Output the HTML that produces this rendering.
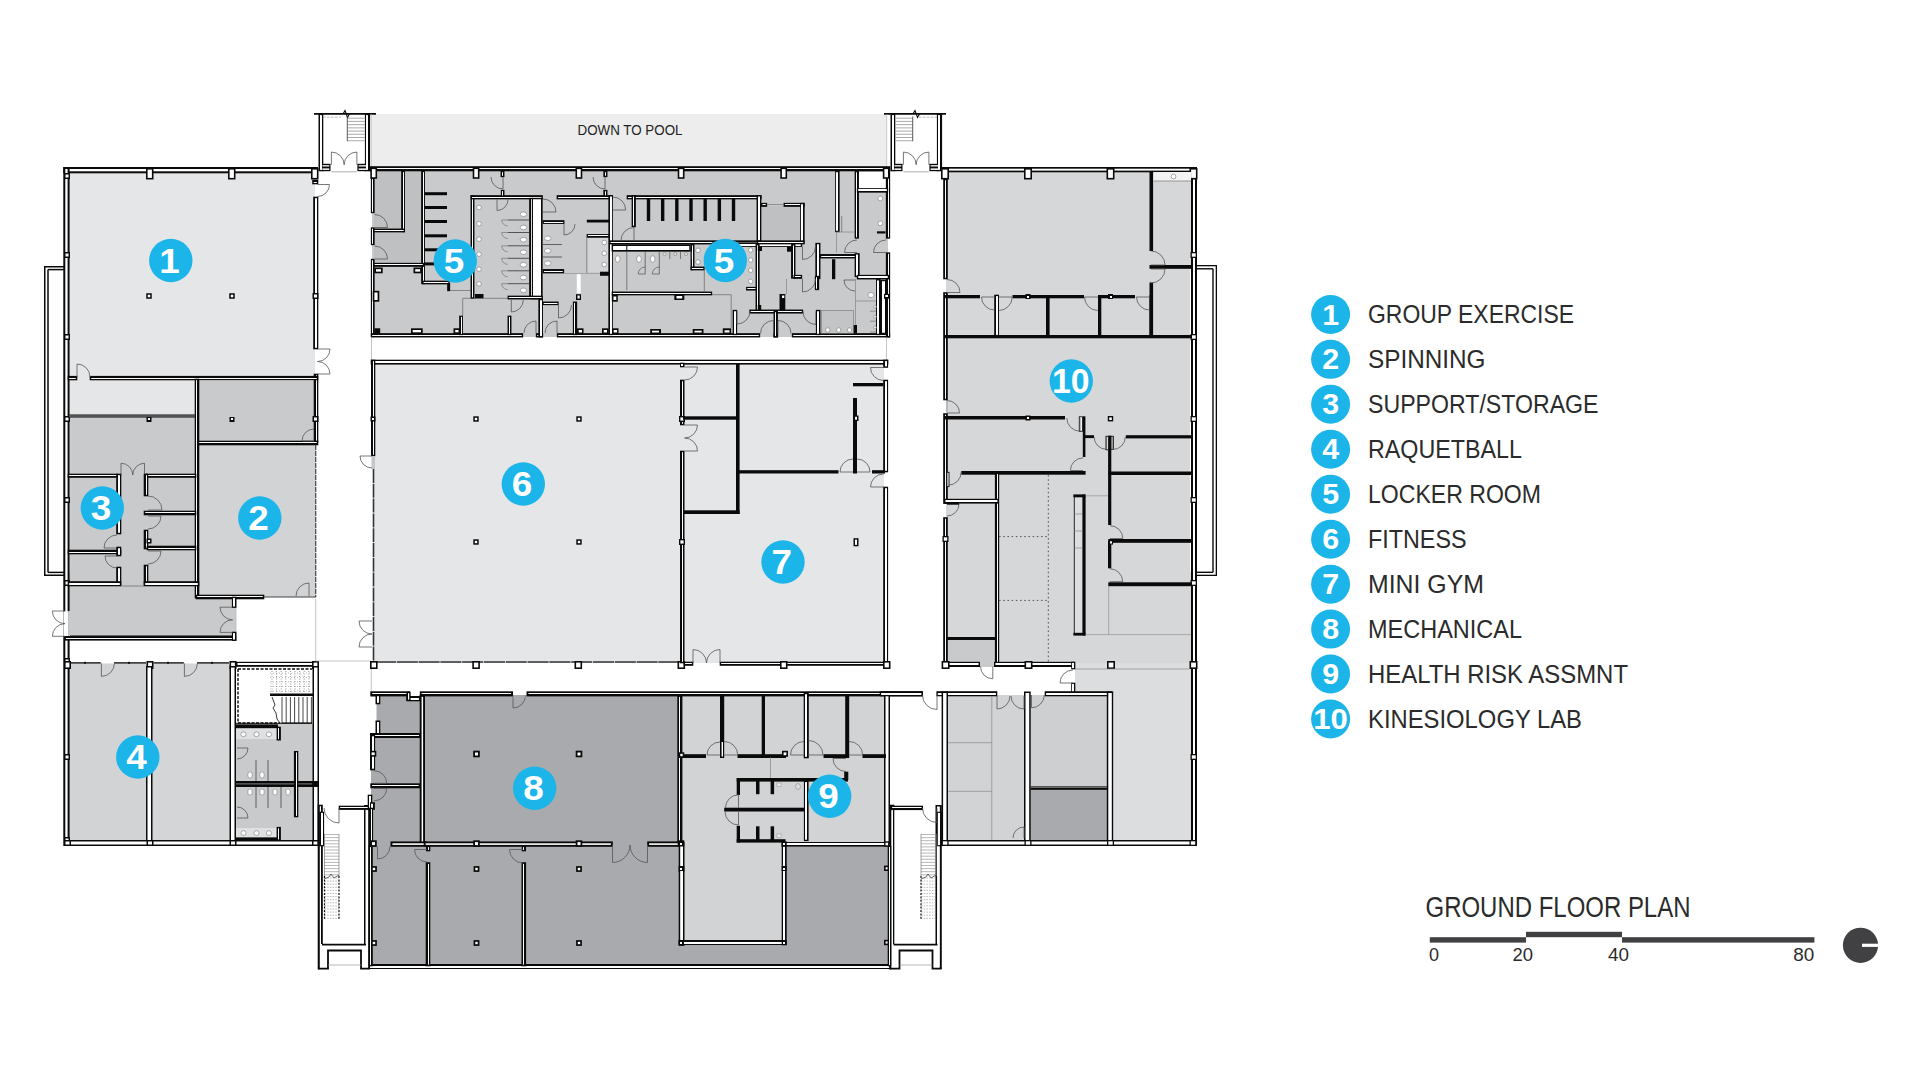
<!DOCTYPE html>
<html><head><meta charset="utf-8"><title>Ground Floor Plan</title>
<style>html,body{margin:0;padding:0;background:#fff;}body{width:1920px;height:1080px;overflow:hidden;}svg{display:block;font-family:"Liberation Sans",sans-serif;}</style>
</head><body>
<svg width="1920" height="1080" viewBox="0 0 1920 1080">
<rect x="371" y="114" width="516" height="53" fill="#ededee"/>
<rect x="69" y="172" width="246" height="207" fill="#e5e6e7"/>
<rect x="69" y="379" width="127" height="37" fill="#e5e6e7"/>
<rect x="198" y="381" width="117" height="61" fill="#c9cacc"/>
<rect x="199" y="445" width="117" height="152" fill="#d2d3d5"/>
<rect x="69" y="417" width="127" height="169" fill="#c9cacc"/>
<rect x="69" y="586" width="127" height="50" fill="#c9cacc"/>
<rect x="196" y="599" width="39.5" height="37" fill="#c9cacc"/>
<rect x="69" y="663.5" width="78" height="177.5" fill="#d2d3d5"/>
<rect x="152" y="663.5" width="78" height="177.5" fill="#d4d5d7"/>
<rect x="236" y="723.5" width="77" height="117.5" fill="#c9cacc"/>
<rect x="372" y="170" width="516" height="167" fill="#c9cacc"/>
<rect x="374" y="363" width="510" height="300" fill="#e5e6e7"/>
<rect x="371" y="695" width="310" height="270" fill="#a8aaad"/>
<rect x="681" y="845" width="209" height="120" fill="#a8aaad"/>
<rect x="682" y="695" width="204" height="148" fill="#d2d3d5"/>
<rect x="684" y="843" width="99" height="99" fill="#d2d3d5"/>
<rect x="946" y="171" width="246" height="492" fill="#d6d7d8"/>
<rect x="947" y="695" width="78" height="146" fill="#d2d3d5"/>
<rect x="1030" y="695" width="78" height="93" fill="#cecfd1"/>
<rect x="1030" y="788" width="78" height="53" fill="#a8aaad"/>
<rect x="947" y="640" width="48" height="24" fill="#c9cacc"/>
<rect x="44.75" y="266.75" width="20.5" height="308.5" fill="#fff" stroke="#0a0a0a" stroke-width="1.5"/>
<rect x="48" y="269.6" width="22" height="302.8" fill="#fff"/>
<line x1="48" y1="269.6" x2="48" y2="572.4" stroke="#0a0a0a" stroke-width="1.5"/>
<line x1="48" y1="269.6" x2="64" y2="269.6" stroke="#0a0a0a" stroke-width="1.5"/>
<line x1="48" y1="572.4" x2="64" y2="572.4" stroke="#0a0a0a" stroke-width="1.5"/>
<rect x="64.3" y="168" width="252.7" height="4.3" fill="#fff" stroke="#0a0a0a" stroke-width="2"/>
<rect x="64.3" y="168" width="4.3" height="677" fill="#fff" stroke="#0a0a0a" stroke-width="2"/>
<rect x="146.8" y="168.8" width="5.9" height="9.9" fill="#fff" stroke="#0a0a0a" stroke-width="1.6"/>
<rect x="228.8" y="168.8" width="5.9" height="9.9" fill="#fff" stroke="#0a0a0a" stroke-width="1.6"/>
<rect x="311.8" y="168.8" width="5.9" height="9.9" fill="#fff" stroke="#0a0a0a" stroke-width="1.6"/>
<rect x="64.75" y="173.75" width="4.5" height="4.5" fill="#fff" stroke="#0a0a0a" stroke-width="1.5"/>
<rect x="64.75" y="252.75" width="4.5" height="4.5" fill="#fff" stroke="#0a0a0a" stroke-width="1.5"/>
<rect x="64.75" y="334.75" width="4.5" height="4.5" fill="#fff" stroke="#0a0a0a" stroke-width="1.5"/>
<rect x="64.75" y="416.75" width="4.5" height="4.5" fill="#fff" stroke="#0a0a0a" stroke-width="1.5"/>
<rect x="64.75" y="497.75" width="4.5" height="4.5" fill="#fff" stroke="#0a0a0a" stroke-width="1.5"/>
<rect x="64.75" y="580.75" width="4.5" height="4.5" fill="#fff" stroke="#0a0a0a" stroke-width="1.5"/>
<rect x="64.75" y="658.75" width="4.5" height="4.5" fill="#fff" stroke="#0a0a0a" stroke-width="1.5"/>
<rect x="64.75" y="754.75" width="4.5" height="4.5" fill="#fff" stroke="#0a0a0a" stroke-width="1.5"/>
<rect x="64.75" y="837.75" width="4.5" height="4.5" fill="#fff" stroke="#0a0a0a" stroke-width="1.5"/>
<rect x="313.2" y="196.7" width="5.1" height="152.6" fill="#0a0a0a"/>
<rect x="315" y="198.2" width="2" height="149.6" fill="#fff"/>
<rect x="313.25" y="293.75" width="4.5" height="4.5" fill="#fff" stroke="#0a0a0a" stroke-width="1.5"/>
<rect x="147" y="294" width="4" height="4" fill="#fff" stroke="#0a0a0a" stroke-width="1.5"/>
<rect x="230" y="294" width="4" height="4" fill="#fff" stroke="#0a0a0a" stroke-width="1.5"/>
<rect x="312.2" y="179.7" width="6.1" height="4.6" fill="#0a0a0a"/>
<rect x="313.7" y="182" width="3.1" height="1" fill="#fff"/>
<path d="M317.5 184.5L329.5 184.5A12 12 0 0 1 317.5 196.5" fill="none" stroke="#555" stroke-width="0.8"/>
<rect x="313.7" y="373.7" width="4.6" height="68.6" fill="#0a0a0a"/>
<rect x="316" y="375.2" width="1" height="65.6" fill="#fff"/>
<path d="M317.5 349L330 349A12.5 12.5 0 0 1 317.5 361.5" fill="none" stroke="#555" stroke-width="0.8"/>
<path d="M317.5 374L330 374A12.5 12.5 0 0 0 317.5 361.5" fill="none" stroke="#555" stroke-width="0.8"/>
<rect x="313.25" y="416.75" width="4.5" height="4.5" fill="#fff" stroke="#0a0a0a" stroke-width="1.5"/>
<rect x="67.7" y="375.9" width="9.6" height="4.4" fill="#0a0a0a"/>
<rect x="69.2" y="378" width="6.6" height="1" fill="#fff"/>
<rect x="89.7" y="375.9" width="228.6" height="4.4" fill="#0a0a0a"/>
<rect x="91.2" y="378" width="225.6" height="1" fill="#fff"/>
<path d="M77 377L77 364A13 13 0 0 1 90 377" fill="none" stroke="#555" stroke-width="0.8"/>
<rect x="194.7" y="378.7" width="4.6" height="219.6" fill="#0a0a0a"/>
<rect x="196" y="380.2" width="1" height="216.6" fill="#fff"/>
<rect x="68" y="414.5" width="128" height="3" fill="#0a0a0a"/>
<line x1="69" y1="416" x2="195" y2="416" stroke="#fff" stroke-width="0.6"/>
<rect x="146.5" y="417" width="5" height="5" fill="#0a0a0a"/>
<rect x="148" y="418" width="2" height="2" fill="#fff"/>
<rect x="229.5" y="417" width="5" height="5" fill="#0a0a0a"/>
<rect x="231" y="418" width="2" height="2" fill="#fff"/>
<rect x="197.7" y="440.7" width="120.6" height="4.6" fill="#0a0a0a"/>
<rect x="199.2" y="442" width="117.6" height="1" fill="#fff"/>
<path d="M314 441L302 441A12 12 0 0 1 314 429" fill="none" stroke="#555" stroke-width="0.8"/>
<line x1="315.7" y1="445" x2="315.7" y2="597" stroke="#444" stroke-width="1.2" stroke-dasharray="5 1"/>
<rect x="195.7" y="594.7" width="68.6" height="4.6" fill="#0a0a0a"/>
<rect x="197.2" y="596" width="65.6" height="1" fill="#fff"/>
<line x1="264" y1="597" x2="316" y2="597" stroke="#444" stroke-width="1"/>
<path d="M309 596L309 583A13 13 0 0 0 296 596" fill="none" stroke="#555" stroke-width="0.8"/>
<rect x="67.7" y="473.7" width="50.6" height="4.1" fill="#0a0a0a"/>
<rect x="69.13" y="475" width="47.75" height="1" fill="#fff"/>
<rect x="144.7" y="473.7" width="51.6" height="4.1" fill="#0a0a0a"/>
<rect x="146.12" y="475" width="48.75" height="1" fill="#fff"/>
<path d="M121 475L121 463.25A11.75 11.75 0 0 1 132.75 475" fill="none" stroke="#555" stroke-width="0.8"/>
<path d="M144.5 475L144.5 463.25A11.75 11.75 0 0 0 132.75 475" fill="none" stroke="#555" stroke-width="0.8"/>
<rect x="116.2" y="473.7" width="5.1" height="60.6" fill="#0a0a0a"/>
<rect x="118" y="475.2" width="2" height="57.6" fill="#fff"/>
<rect x="143.7" y="473.7" width="4.6" height="22.6" fill="#0a0a0a"/>
<rect x="146" y="475.2" width="1" height="19.6" fill="#fff"/>
<rect x="67.7" y="549.7" width="53.6" height="4.6" fill="#0a0a0a"/>
<rect x="69.2" y="552" width="50.6" height="1" fill="#fff"/>
<rect x="116.2" y="546.7" width="5.1" height="9.6" fill="#0a0a0a"/>
<rect x="118" y="548.2" width="2" height="6.6" fill="#fff"/>
<rect x="116.2" y="566.7" width="5.1" height="18.6" fill="#0a0a0a"/>
<rect x="118" y="568.2" width="2" height="15.6" fill="#fff"/>
<rect x="143.7" y="510.7" width="52.6" height="4.6" fill="#0a0a0a"/>
<rect x="145.2" y="512" width="49.6" height="1" fill="#fff"/>
<rect x="143.7" y="529.7" width="4.6" height="19.6" fill="#0a0a0a"/>
<rect x="146" y="531.2" width="1" height="16.6" fill="#fff"/>
<rect x="146.7" y="545.7" width="49.6" height="4.6" fill="#0a0a0a"/>
<rect x="148.2" y="548" width="46.6" height="1" fill="#fff"/>
<rect x="143.7" y="564.7" width="4.6" height="20.6" fill="#0a0a0a"/>
<rect x="146" y="566.2" width="1" height="17.6" fill="#fff"/>
<rect x="146.5" y="538.5" width="5" height="5" fill="#0a0a0a"/>
<rect x="148" y="540" width="2" height="2" fill="#fff"/>
<path d="M117 548L104 548A13 13 0 0 1 117 535" fill="none" stroke="#555" stroke-width="0.8"/>
<path d="M117 556L105 556A12 12 0 0 0 117 568" fill="none" stroke="#555" stroke-width="0.8"/>
<path d="M148 510L162 510A14 14 0 0 0 148 496" fill="none" stroke="#555" stroke-width="0.8"/>
<path d="M148 516L161 516A13 13 0 0 1 148 529" fill="none" stroke="#555" stroke-width="0.8"/>
<path d="M148 551L161 551A13 13 0 0 1 148 564" fill="none" stroke="#555" stroke-width="0.8"/>
<rect x="67.7" y="581.2" width="53.6" height="5.1" fill="#0a0a0a"/>
<rect x="69.2" y="583" width="50.6" height="2" fill="#fff"/>
<rect x="143.7" y="581.2" width="55.6" height="5.1" fill="#0a0a0a"/>
<rect x="145.2" y="583" width="52.6" height="2" fill="#fff"/>
<line x1="121" y1="586" x2="144" y2="586" stroke="#666" stroke-width="0.7"/>
<rect x="64" y="635.5" width="172.2" height="5.1" fill="#0a0a0a"/>
<rect x="65.93" y="638" width="168.35" height="1" fill="#fff"/>
<rect x="231.9" y="596.7" width="4.6" height="11.2" fill="#0a0a0a"/>
<rect x="233" y="598.1" width="2" height="8.4" fill="#fff"/>
<rect x="231.9" y="631.7" width="4.6" height="9.2" fill="#0a0a0a"/>
<rect x="233" y="633.1" width="2" height="6.4" fill="#fff"/>
<line x1="235.9" y1="607.6" x2="235.9" y2="632" stroke="#999" stroke-width="0.7"/>
<rect x="63.4" y="611.3" width="6.6" height="24.7" fill="#fff"/>
<line x1="68.6" y1="611.3" x2="68.6" y2="636" stroke="#999" stroke-width="0.7"/>
<rect x="68.9" y="611.3" width="1.1" height="24.7" fill="#c9cacc"/>
<path d="M65 611L52.35 611A12.65 12.65 0 0 0 65 623.65" fill="none" stroke="#555" stroke-width="0.8"/>
<path d="M65 636.3L52.35 636.3A12.65 12.65 0 0 1 65 623.65" fill="none" stroke="#555" stroke-width="0.8"/>
<path d="M232.6 607.2L220 607.2A12.6 12.6 0 0 0 232.6 619.8" fill="none" stroke="#555" stroke-width="0.8"/>
<path d="M232.6 632.4L220 632.4A12.6 12.6 0 0 1 232.6 619.8" fill="none" stroke="#555" stroke-width="0.8"/>
<rect x="236" y="661.8" width="83" height="5" fill="#0a0a0a"/>
<rect x="237.5" y="663" width="80" height="2" fill="#fff"/>
<line x1="70" y1="662.9" x2="100.8" y2="662.9" stroke="#222" stroke-width="1.5"/>
<line x1="114" y1="662.9" x2="146" y2="662.9" stroke="#222" stroke-width="1.5"/>
<line x1="153.5" y1="662.9" x2="183.8" y2="662.9" stroke="#222" stroke-width="1.5"/>
<line x1="197" y1="662.9" x2="229" y2="662.9" stroke="#222" stroke-width="1.5"/>
<rect x="84.2" y="661.8" width="1.6" height="2.2" fill="#111"/>
<rect x="128.2" y="661.8" width="1.6" height="2.2" fill="#111"/>
<rect x="167.2" y="661.8" width="1.6" height="2.2" fill="#111"/>
<rect x="211.2" y="661.8" width="1.6" height="2.2" fill="#111"/>
<rect x="64.8" y="661.8" width="5.4" height="6.4" fill="#fff" stroke="#0a0a0a" stroke-width="1.6"/>
<rect x="147.3" y="661.8" width="5.4" height="6.4" fill="#fff" stroke="#0a0a0a" stroke-width="1.6"/>
<rect x="230.3" y="661.8" width="5.4" height="6.4" fill="#fff" stroke="#0a0a0a" stroke-width="1.6"/>
<rect x="312.8" y="661.8" width="5.4" height="6.4" fill="#fff" stroke="#0a0a0a" stroke-width="1.6"/>
<rect x="146.75" y="666.75" width="5" height="178.5" fill="#fff" stroke="#0a0a0a" stroke-width="1.5"/>
<rect x="230.25" y="666.75" width="5" height="178.5" fill="#fff" stroke="#0a0a0a" stroke-width="1.5"/>
<rect x="313.25" y="666.75" width="5" height="178.5" fill="#fff" stroke="#0a0a0a" stroke-width="1.5"/>
<rect x="64.75" y="840.75" width="253.5" height="4.5" fill="#fff" stroke="#0a0a0a" stroke-width="1.5"/>
<rect x="64.75" y="840.75" width="5.5" height="4.5" fill="#fff" stroke="#0a0a0a" stroke-width="1.5"/>
<rect x="147.25" y="840.75" width="5.5" height="4.5" fill="#fff" stroke="#0a0a0a" stroke-width="1.5"/>
<rect x="230.25" y="840.75" width="5.5" height="4.5" fill="#fff" stroke="#0a0a0a" stroke-width="1.5"/>
<rect x="312.75" y="840.75" width="5.5" height="4.5" fill="#fff" stroke="#0a0a0a" stroke-width="1.5"/>
<path d="M101.4 663.4L101.4 676.4A13 13 0 0 0 114.4 663.4" fill="none" stroke="#555" stroke-width="0.8"/>
<path d="M184.4 663.4L184.4 676.4A13 13 0 0 0 197.4 663.4" fill="none" stroke="#555" stroke-width="0.8"/>
<line x1="238" y1="669" x2="312" y2="669" stroke="#0a0a0a" stroke-width="1.4" stroke-dasharray="3 1.5"/>
<line x1="238" y1="669" x2="238" y2="723" stroke="#0a0a0a" stroke-width="1.4" stroke-dasharray="3 1.5"/>
<line x1="238" y1="723" x2="280" y2="723" stroke="#0a0a0a" stroke-width="1.4" stroke-dasharray="3 1.5"/>
<line x1="272" y1="671" x2="272" y2="693" stroke="#666" stroke-width="0.7" stroke-dasharray="1 1.5"/>
<line x1="276.6" y1="671" x2="276.6" y2="693" stroke="#666" stroke-width="0.7" stroke-dasharray="1 1.5"/>
<line x1="281.2" y1="671" x2="281.2" y2="693" stroke="#666" stroke-width="0.7" stroke-dasharray="1 1.5"/>
<line x1="285.8" y1="671" x2="285.8" y2="693" stroke="#666" stroke-width="0.7" stroke-dasharray="1 1.5"/>
<line x1="290.4" y1="671" x2="290.4" y2="693" stroke="#666" stroke-width="0.7" stroke-dasharray="1 1.5"/>
<line x1="295" y1="671" x2="295" y2="693" stroke="#666" stroke-width="0.7" stroke-dasharray="1 1.5"/>
<line x1="299.6" y1="671" x2="299.6" y2="693" stroke="#666" stroke-width="0.7" stroke-dasharray="1 1.5"/>
<line x1="304.2" y1="671" x2="304.2" y2="693" stroke="#666" stroke-width="0.7" stroke-dasharray="1 1.5"/>
<line x1="308.8" y1="671" x2="308.8" y2="693" stroke="#666" stroke-width="0.7" stroke-dasharray="1 1.5"/>
<line x1="270" y1="673" x2="312" y2="673" stroke="#888" stroke-width="0.6" stroke-dasharray="1 2"/>
<line x1="270" y1="677.5" x2="312" y2="677.5" stroke="#888" stroke-width="0.6" stroke-dasharray="1 2"/>
<line x1="270" y1="682" x2="312" y2="682" stroke="#888" stroke-width="0.6" stroke-dasharray="1 2"/>
<line x1="270" y1="686.5" x2="312" y2="686.5" stroke="#888" stroke-width="0.6" stroke-dasharray="1 2"/>
<line x1="270" y1="691" x2="312" y2="691" stroke="#888" stroke-width="0.6" stroke-dasharray="1 2"/>
<rect x="270" y="693.5" width="44" height="2.5" fill="#0a0a0a"/>
<line x1="282" y1="697" x2="282" y2="723" stroke="#333" stroke-width="0.9"/>
<line x1="286.2" y1="697" x2="286.2" y2="723" stroke="#333" stroke-width="0.9"/>
<line x1="290.4" y1="697" x2="290.4" y2="723" stroke="#333" stroke-width="0.9"/>
<line x1="294.6" y1="697" x2="294.6" y2="723" stroke="#333" stroke-width="0.9"/>
<line x1="298.8" y1="697" x2="298.8" y2="723" stroke="#333" stroke-width="0.9"/>
<line x1="303" y1="697" x2="303" y2="723" stroke="#333" stroke-width="0.9"/>
<line x1="307.2" y1="697" x2="307.2" y2="723" stroke="#333" stroke-width="0.9"/>
<line x1="311.4" y1="697" x2="311.4" y2="723" stroke="#333" stroke-width="0.9"/>
<line x1="282" y1="723" x2="312" y2="723" stroke="#0a0a0a" stroke-width="1"/>
<path d="M272 697l3 8-2 3 3 5 1 6 3 4" fill="none" stroke="#222" stroke-width="0.9"/>
<rect x="236" y="729" width="41" height="10" fill="#dfe0e1"/>
<rect x="236" y="828" width="41" height="9.4" fill="#dfe0e1"/>
<rect x="236" y="724.4" width="42" height="3.7" fill="#0a0a0a"/>
<line x1="236" y1="723.3" x2="312" y2="723.3" stroke="#0a0a0a" stroke-width="1"/>
<rect x="276.6" y="726.7" width="4.3" height="13.8" fill="#0a0a0a"/>
<rect x="278" y="728.1" width="1" height="11" fill="#fff"/>
<rect x="236" y="781" width="83" height="6" fill="#0a0a0a"/>
<line x1="236" y1="783.9" x2="312" y2="783.9" stroke="#ccc" stroke-width="0.6"/>
<rect x="236" y="837.4" width="42" height="3.6" fill="#0a0a0a"/>
<rect x="276.6" y="826.9" width="4.3" height="13.9" fill="#0a0a0a"/>
<rect x="278" y="828.3" width="1" height="11.1" fill="#fff"/>
<rect x="293.9" y="751" width="4.4" height="66.3" fill="#0a0a0a"/>
<rect x="296" y="752.4" width="1" height="63.5" fill="#fff"/>
<ellipse cx="243.5" cy="734.3" rx="2.6" ry="2.4" fill="#fff" stroke="#777" stroke-width="0.6"/>
<ellipse cx="243.5" cy="833.1" rx="2.6" ry="2.4" fill="#fff" stroke="#777" stroke-width="0.6"/>
<ellipse cx="256.5" cy="734.3" rx="2.6" ry="2.4" fill="#fff" stroke="#777" stroke-width="0.6"/>
<ellipse cx="256.5" cy="833.1" rx="2.6" ry="2.4" fill="#fff" stroke="#777" stroke-width="0.6"/>
<ellipse cx="268.9" cy="734.3" rx="2.6" ry="2.4" fill="#fff" stroke="#777" stroke-width="0.6"/>
<ellipse cx="268.9" cy="833.1" rx="2.6" ry="2.4" fill="#fff" stroke="#777" stroke-width="0.6"/>
<ellipse cx="250" cy="775" rx="2.3" ry="3.2" fill="#fff" stroke="#777" stroke-width="0.6"/>
<ellipse cx="262" cy="775" rx="2.3" ry="3.2" fill="#fff" stroke="#777" stroke-width="0.6"/>
<ellipse cx="250" cy="792" rx="2.3" ry="3.2" fill="#fff" stroke="#777" stroke-width="0.6"/>
<ellipse cx="262" cy="792" rx="2.3" ry="3.2" fill="#fff" stroke="#777" stroke-width="0.6"/>
<ellipse cx="275" cy="792" rx="2.3" ry="3.2" fill="#fff" stroke="#777" stroke-width="0.6"/>
<ellipse cx="288" cy="792" rx="2.3" ry="3.2" fill="#fff" stroke="#777" stroke-width="0.6"/>
<line x1="256" y1="760" x2="256" y2="781" stroke="#444" stroke-width="0.8"/>
<line x1="268" y1="760" x2="268" y2="781" stroke="#444" stroke-width="0.8"/>
<line x1="256" y1="787" x2="256" y2="808" stroke="#444" stroke-width="0.8"/>
<line x1="268" y1="787" x2="268" y2="808" stroke="#444" stroke-width="0.8"/>
<line x1="281" y1="787" x2="281" y2="808" stroke="#444" stroke-width="0.8"/>
<path d="M237 748L248 748A11 11 0 0 1 237 759" fill="none" stroke="#555" stroke-width="0.8"/>
<path d="M237 818L248 818A11 11 0 0 0 237 807" fill="none" stroke="#555" stroke-width="0.8"/>
<line x1="314" y1="113.9" x2="376" y2="113.9" stroke="#0a0a0a" stroke-width="1.9"/>
<path d="M343 114l2-3.5 2.5 7 2-3.5" fill="none" stroke="#0a0a0a" stroke-width="1.1"/>
<rect x="318.5" y="113.7" width="4.8" height="57.6" fill="#0a0a0a"/>
<rect x="320" y="115.1" width="2" height="54.8" fill="#fff"/>
<rect x="364.9" y="113.7" width="5.2" height="57.6" fill="#0a0a0a"/>
<rect x="366" y="115.1" width="2" height="54.8" fill="#fff"/>
<rect x="322.4" y="163.8" width="8.1" height="7.4" fill="#0a0a0a"/>
<rect x="322.4" y="165.2" width="6.9" height="1.3" fill="#fff"/>
<rect x="322.4" y="168.4" width="6.9" height="1.5" fill="#fff"/>
<rect x="357.4" y="163.8" width="8.6" height="7.4" fill="#0a0a0a"/>
<rect x="358.6" y="165.2" width="7.4" height="1.3" fill="#fff"/>
<rect x="358.6" y="168.4" width="7.4" height="1.5" fill="#fff"/>
<line x1="347.3" y1="118.2" x2="364.7" y2="118.2" stroke="#aaa" stroke-width="1"/>
<line x1="347.3" y1="121.42" x2="364.7" y2="121.42" stroke="#aaa" stroke-width="1"/>
<line x1="347.3" y1="124.64" x2="364.7" y2="124.64" stroke="#aaa" stroke-width="1"/>
<line x1="347.3" y1="127.86" x2="364.7" y2="127.86" stroke="#aaa" stroke-width="1"/>
<line x1="347.3" y1="131.08" x2="364.7" y2="131.08" stroke="#aaa" stroke-width="1"/>
<line x1="347.3" y1="134.3" x2="364.7" y2="134.3" stroke="#aaa" stroke-width="1"/>
<line x1="347.3" y1="137.52" x2="364.7" y2="137.52" stroke="#aaa" stroke-width="1"/>
<line x1="347.3" y1="140.74" x2="364.7" y2="140.74" stroke="#aaa" stroke-width="1"/>
<line x1="347.3" y1="116.5" x2="347.3" y2="141.2" stroke="#333" stroke-width="0.8"/>
<line x1="323" y1="117.2" x2="341" y2="117.2" stroke="#999" stroke-width="0.7" stroke-dasharray="2.5 1.5"/>
<path d="M331.4 164.8L331.4 152.05A12.75 12.75 0 0 1 344.15 164.8" fill="none" stroke="#555" stroke-width="0.8"/>
<path d="M356.9 164.8L356.9 152.05A12.75 12.75 0 0 0 344.15 164.8" fill="none" stroke="#555" stroke-width="0.8"/>
<line x1="331.4" y1="171.8" x2="356.9" y2="171.8" stroke="#999" stroke-width="0.8"/>
<line x1="884" y1="113.9" x2="946" y2="113.9" stroke="#0a0a0a" stroke-width="1.9"/>
<path d="M913 114l2-3.5 2.5 7 2-3.5" fill="none" stroke="#0a0a0a" stroke-width="1.1"/>
<rect x="890.5" y="113.7" width="4.8" height="57.6" fill="#0a0a0a"/>
<rect x="892" y="115.1" width="2" height="54.8" fill="#fff"/>
<rect x="936.9" y="113.7" width="5.2" height="57.6" fill="#0a0a0a"/>
<rect x="938" y="115.1" width="2" height="54.8" fill="#fff"/>
<rect x="894.4" y="163.8" width="8.1" height="7.4" fill="#0a0a0a"/>
<rect x="894.4" y="165.2" width="6.9" height="1.3" fill="#fff"/>
<rect x="894.4" y="168.4" width="6.9" height="1.5" fill="#fff"/>
<rect x="929.4" y="163.8" width="8.6" height="7.4" fill="#0a0a0a"/>
<rect x="930.6" y="165.2" width="7.4" height="1.3" fill="#fff"/>
<rect x="930.6" y="168.4" width="7.4" height="1.5" fill="#fff"/>
<line x1="895.3" y1="118.2" x2="912.7" y2="118.2" stroke="#aaa" stroke-width="1"/>
<line x1="895.3" y1="121.42" x2="912.7" y2="121.42" stroke="#aaa" stroke-width="1"/>
<line x1="895.3" y1="124.64" x2="912.7" y2="124.64" stroke="#aaa" stroke-width="1"/>
<line x1="895.3" y1="127.86" x2="912.7" y2="127.86" stroke="#aaa" stroke-width="1"/>
<line x1="895.3" y1="131.08" x2="912.7" y2="131.08" stroke="#aaa" stroke-width="1"/>
<line x1="895.3" y1="134.3" x2="912.7" y2="134.3" stroke="#aaa" stroke-width="1"/>
<line x1="895.3" y1="137.52" x2="912.7" y2="137.52" stroke="#aaa" stroke-width="1"/>
<line x1="895.3" y1="140.74" x2="912.7" y2="140.74" stroke="#aaa" stroke-width="1"/>
<line x1="912.7" y1="116.5" x2="912.7" y2="141.2" stroke="#333" stroke-width="0.8"/>
<line x1="919" y1="117.2" x2="937" y2="117.2" stroke="#999" stroke-width="0.7" stroke-dasharray="2.5 1.5"/>
<path d="M903.4 164.8L903.4 152.05A12.75 12.75 0 0 1 916.15 164.8" fill="none" stroke="#555" stroke-width="0.8"/>
<path d="M928.9 164.8L928.9 152.05A12.75 12.75 0 0 0 916.15 164.8" fill="none" stroke="#555" stroke-width="0.8"/>
<line x1="903.4" y1="171.8" x2="928.9" y2="171.8" stroke="#999" stroke-width="0.8"/>
<line x1="371.3" y1="114" x2="371.3" y2="167" stroke="#bbb" stroke-width="0.7"/>
<line x1="886.7" y1="114" x2="886.7" y2="167" stroke="#bbb" stroke-width="0.7"/>
<rect x="374" y="171" width="28" height="58" fill="#bfc0c2"/>
<rect x="404" y="171" width="18" height="93" fill="#bfc0c2"/>
<rect x="374" y="232" width="48" height="32" fill="#bfc0c2"/>
<rect x="761" y="206" width="40" height="35" fill="#bfc0c2"/>
<rect x="821" y="310" width="33" height="24" fill="#c3c4c6"/>
<rect x="859" y="172" width="27" height="17" fill="#fff"/>
<rect x="587" y="237.5" width="22" height="34.5" fill="#d3d4d6"/>
<rect x="369.7" y="166.2" width="520.6" height="5.1" fill="#0a0a0a"/>
<rect x="371.62" y="168" width="516.75" height="1" fill="#fff"/>
<rect x="370.85" y="177.85" width="3.8" height="35.3" fill="#0a0a0a"/>
<rect x="372" y="179.15" width="1" height="32.7" fill="#fff"/>
<rect x="370.85" y="227.35" width="3.8" height="17.8" fill="#0a0a0a"/>
<rect x="372" y="228.65" width="1" height="15.2" fill="#fff"/>
<rect x="370.85" y="258.85" width="3.8" height="78.3" fill="#0a0a0a"/>
<rect x="372" y="260.15" width="1" height="75.7" fill="#fff"/>
<path d="M374.5 227.5L387.5 227.5A13 13 0 0 0 374.5 214.5" fill="none" stroke="#555" stroke-width="0.8"/>
<path d="M374.5 259L387.5 259A13 13 0 0 0 374.5 246" fill="none" stroke="#555" stroke-width="0.8"/>
<rect x="370.85" y="333.15" width="152.3" height="4.3" fill="#0a0a0a"/>
<rect x="372.25" y="335" width="149.5" height="1" fill="#fff"/>
<rect x="535.85" y="333.15" width="7.3" height="4.3" fill="#0a0a0a"/>
<rect x="537.25" y="335" width="4.5" height="1" fill="#fff"/>
<rect x="556.85" y="333.15" width="203.3" height="4.3" fill="#0a0a0a"/>
<rect x="558.25" y="335" width="200.5" height="1" fill="#fff"/>
<rect x="773.35" y="333.15" width="4.8" height="4.3" fill="#0a0a0a"/>
<rect x="774.75" y="335" width="2" height="1" fill="#fff"/>
<rect x="791.85" y="333.15" width="98.3" height="4.3" fill="#0a0a0a"/>
<rect x="793.25" y="335" width="95.5" height="1" fill="#fff"/>
<rect x="885.85" y="170.85" width="4.3" height="67.8" fill="#0a0a0a"/>
<rect x="888" y="172.25" width="1" height="65" fill="#fff"/>
<rect x="885.85" y="252.35" width="4.3" height="85.1" fill="#0a0a0a"/>
<rect x="888" y="253.75" width="1" height="82.3" fill="#fff"/>
<rect x="401.15" y="170.85" width="3.8" height="61.3" fill="#0a0a0a"/>
<rect x="403" y="172.15" width="1" height="58.7" fill="#fff"/>
<rect x="373.35" y="228.55" width="31.6" height="3.8" fill="#0a0a0a"/>
<rect x="374.65" y="230" width="29" height="1" fill="#fff"/>
<rect x="421.15" y="170.85" width="3.8" height="113.3" fill="#0a0a0a"/>
<rect x="423" y="172.15" width="1" height="110.7" fill="#fff"/>
<rect x="373.35" y="262.85" width="50.8" height="4" fill="#0a0a0a"/>
<rect x="374.75" y="264" width="48" height="1" fill="#fff"/>
<rect x="422.35" y="280.65" width="27.3" height="3.7" fill="#0a0a0a"/>
<rect x="423.6" y="282" width="24.8" height="1" fill="#fff"/>
<rect x="447.15" y="282.85" width="3" height="8.3" fill="#0a0a0a"/>
<rect x="424.7" y="192.2" width="22.3" height="3" fill="#0a0a0a"/>
<rect x="424.7" y="206" width="22.3" height="3" fill="#0a0a0a"/>
<rect x="424.7" y="220" width="22.3" height="3" fill="#0a0a0a"/>
<rect x="424.7" y="234.3" width="22.3" height="3" fill="#0a0a0a"/>
<rect x="424.7" y="248.3" width="22.3" height="3" fill="#0a0a0a"/>
<rect x="424.7" y="262.4" width="22.3" height="3" fill="#0a0a0a"/>
<rect x="374.3" y="267.5" width="8.4" height="5.8" fill="#0a0a0a"/>
<rect x="376" y="269.2" width="5" height="2.4" fill="#fff"/>
<rect x="413.5" y="267.5" width="8.3" height="5.8" fill="#0a0a0a"/>
<rect x="415.2" y="269.2" width="4.9" height="2.4" fill="#fff"/>
<rect x="372.7" y="290.8" width="6.6" height="10.9" fill="#0a0a0a"/>
<rect x="374.4" y="292.5" width="3.2" height="7.5" fill="#fff"/>
<rect x="374.3" y="328.3" width="5.9" height="5.7" fill="#0a0a0a"/>
<rect x="411" y="328.3" width="11.7" height="5.7" fill="#0a0a0a"/>
<rect x="412.7" y="330" width="8.3" height="2.3" fill="#fff"/>
<rect x="453.5" y="328.3" width="6.7" height="5.7" fill="#0a0a0a"/>
<rect x="455.2" y="330" width="3.3" height="2.3" fill="#fff"/>
<rect x="459.15" y="315.65" width="3.8" height="19.5" fill="#0a0a0a"/>
<rect x="461" y="316.95" width="1" height="16.9" fill="#fff"/>
<rect x="507.55" y="315.65" width="3.9" height="19.5" fill="#0a0a0a"/>
<rect x="509" y="317" width="1" height="16.8" fill="#fff"/>
<line x1="462.7" y1="298.3" x2="507.7" y2="298.3" stroke="#666" stroke-width="0.7"/>
<line x1="462.7" y1="298.3" x2="462.7" y2="316" stroke="#666" stroke-width="0.7"/>
<line x1="450" y1="290.5" x2="470.7" y2="290.5" stroke="#666" stroke-width="0.7"/>
<rect x="470.55" y="195.15" width="3.9" height="103.5" fill="#0a0a0a"/>
<rect x="472" y="196.5" width="1" height="100.8" fill="#fff"/>
<rect x="470.55" y="195.15" width="72.3" height="4.2" fill="#0a0a0a"/>
<rect x="471.95" y="197" width="69.5" height="1" fill="#fff"/>
<rect x="500.85" y="189.85" width="3.6" height="6.8" fill="#0a0a0a"/>
<rect x="502" y="191.05" width="1" height="4.4" fill="#fff"/>
<rect x="500.55" y="170.85" width="3.9" height="6.3" fill="#0a0a0a"/>
<rect x="502" y="172.2" width="1" height="3.6" fill="#fff"/>
<rect x="529.15" y="197.85" width="3.8" height="101.3" fill="#0a0a0a"/>
<rect x="531" y="199.15" width="1" height="98.7" fill="#fff"/>
<rect x="531.85" y="197.85" width="10.8" height="101.5" fill="#0a0a0a"/>
<rect x="533" y="199.25" width="8" height="98.7" fill="#fff"/>
<rect x="507.55" y="295.65" width="35.3" height="3.8" fill="#0a0a0a"/>
<rect x="508.85" y="297" width="32.7" height="1" fill="#fff"/>
<rect x="538.35" y="298.85" width="4.6" height="38.6" fill="#0a0a0a"/>
<rect x="540" y="300.25" width="2" height="35.8" fill="#fff"/>
<rect x="475" y="294" width="8.5" height="4.3" fill="#0a0a0a"/>
<circle cx="479" cy="207.5" r="2.3" fill="#fff" stroke="#777" stroke-width="0.6"/>
<circle cx="479" cy="223.8" r="2.3" fill="#fff" stroke="#777" stroke-width="0.6"/>
<circle cx="479" cy="239.2" r="2.3" fill="#fff" stroke="#777" stroke-width="0.6"/>
<circle cx="479" cy="254.2" r="2.3" fill="#fff" stroke="#777" stroke-width="0.6"/>
<circle cx="479" cy="269.2" r="2.3" fill="#fff" stroke="#777" stroke-width="0.6"/>
<circle cx="479" cy="283.8" r="2.3" fill="#fff" stroke="#777" stroke-width="0.6"/>
<ellipse cx="523.5" cy="214.2" rx="3.3" ry="2.3" fill="#fff" stroke="#777" stroke-width="0.6"/>
<ellipse cx="523.5" cy="227.5" rx="3.3" ry="2.3" fill="#fff" stroke="#777" stroke-width="0.6"/>
<ellipse cx="523.5" cy="239.7" rx="3.3" ry="2.3" fill="#fff" stroke="#777" stroke-width="0.6"/>
<ellipse cx="523.5" cy="252.2" rx="3.3" ry="2.3" fill="#fff" stroke="#777" stroke-width="0.6"/>
<ellipse cx="523.5" cy="264.7" rx="3.3" ry="2.3" fill="#fff" stroke="#777" stroke-width="0.6"/>
<ellipse cx="523.5" cy="277.5" rx="3.3" ry="2.3" fill="#fff" stroke="#777" stroke-width="0.6"/>
<ellipse cx="523.5" cy="290.3" rx="3.3" ry="2.3" fill="#fff" stroke="#777" stroke-width="0.6"/>
<line x1="507.7" y1="220" x2="529.3" y2="220" stroke="#444" stroke-width="0.9"/>
<path d="M507.7 220L501.7 220A6 6 0 0 0 507.7 226" fill="none" stroke="#666" stroke-width="0.6"/>
<line x1="507.7" y1="232.5" x2="529.3" y2="232.5" stroke="#444" stroke-width="0.9"/>
<path d="M507.7 232.5L501.7 232.5A6 6 0 0 0 507.7 238.5" fill="none" stroke="#666" stroke-width="0.6"/>
<line x1="507.7" y1="245.8" x2="529.3" y2="245.8" stroke="#444" stroke-width="0.9"/>
<path d="M507.7 245.8L501.7 245.8A6 6 0 0 0 507.7 251.8" fill="none" stroke="#666" stroke-width="0.6"/>
<line x1="507.7" y1="258.3" x2="529.3" y2="258.3" stroke="#444" stroke-width="0.9"/>
<path d="M507.7 258.3L501.7 258.3A6 6 0 0 0 507.7 264.3" fill="none" stroke="#666" stroke-width="0.6"/>
<line x1="507.7" y1="270.8" x2="529.3" y2="270.8" stroke="#444" stroke-width="0.9"/>
<path d="M507.7 270.8L501.7 270.8A6 6 0 0 0 507.7 276.8" fill="none" stroke="#666" stroke-width="0.6"/>
<line x1="507.7" y1="283.7" x2="529.3" y2="283.7" stroke="#444" stroke-width="0.9"/>
<path d="M507.7 283.7L501.7 283.7A6 6 0 0 0 507.7 289.7" fill="none" stroke="#666" stroke-width="0.6"/>
<path d="M497 199.5L497 210.5A11 11 0 0 0 508 199.5" fill="none" stroke="#555" stroke-width="0.8"/>
<path d="M503 177L503 189A12 12 0 0 1 491 177" fill="none" stroke="#555" stroke-width="0.8"/>
<path d="M511.3 300L511.3 312A12 12 0 0 0 523.3 300" fill="none" stroke="#555" stroke-width="0.8"/>
<path d="M536 333L536 321A12 12 0 0 0 524 333" fill="none" stroke="#555" stroke-width="0.8"/>
<rect x="556.65" y="195.15" width="56.2" height="4.2" fill="#0a0a0a"/>
<rect x="558.05" y="197" width="53.4" height="1" fill="#fff"/>
<rect x="608.35" y="195.15" width="4.5" height="140" fill="#0a0a0a"/>
<rect x="610" y="196.55" width="2" height="137.2" fill="#fff"/>
<rect x="603.35" y="170.85" width="4.1" height="6.3" fill="#0a0a0a"/>
<rect x="605" y="172.25" width="1" height="3.5" fill="#fff"/>
<rect x="603.35" y="189.85" width="4.1" height="6.8" fill="#0a0a0a"/>
<rect x="605" y="191.25" width="1" height="4" fill="#fff"/>
<path d="M605 177L605 189A12 12 0 0 1 593 177" fill="none" stroke="#555" stroke-width="0.8"/>
<path d="M543 212L556 212A13 13 0 0 0 543 199" fill="none" stroke="#555" stroke-width="0.8"/>
<rect x="542.55" y="220.15" width="21.9" height="3.8" fill="#0a0a0a"/>
<rect x="543.85" y="222" width="19.3" height="1" fill="#fff"/>
<rect x="542.55" y="269.05" width="21.6" height="4.4" fill="#0a0a0a"/>
<rect x="543.95" y="271" width="18.8" height="1" fill="#fff"/>
<rect x="586.8" y="219.7" width="22.2" height="2.8" fill="#0a0a0a"/>
<rect x="586.65" y="234.05" width="22.8" height="3.7" fill="#0a0a0a"/>
<rect x="587.9" y="235" width="20.3" height="1" fill="#fff"/>
<rect x="600" y="271.7" width="9" height="4.1" fill="#0a0a0a"/>
<ellipse cx="547.7" cy="238.3" rx="3.3" ry="2.3" fill="#fff" stroke="#777" stroke-width="0.6"/>
<line x1="543" y1="244.5" x2="562" y2="244.5" stroke="#444" stroke-width="0.8"/>
<ellipse cx="547.7" cy="250.8" rx="3.3" ry="2.3" fill="#fff" stroke="#777" stroke-width="0.6"/>
<line x1="543" y1="257" x2="562" y2="257" stroke="#444" stroke-width="0.8"/>
<ellipse cx="547.7" cy="263.3" rx="3.3" ry="2.3" fill="#fff" stroke="#777" stroke-width="0.6"/>
<circle cx="604.3" cy="242.5" r="2.3" fill="#fff" stroke="#777" stroke-width="0.6"/>
<circle cx="604.3" cy="253.3" r="2.3" fill="#fff" stroke="#777" stroke-width="0.6"/>
<circle cx="604.3" cy="264.5" r="2.3" fill="#fff" stroke="#777" stroke-width="0.6"/>
<line x1="586.8" y1="237.5" x2="586.8" y2="273" stroke="#666" stroke-width="0.7"/>
<line x1="543" y1="273.5" x2="600" y2="273.5" stroke="#888" stroke-width="0.6"/>
<path d="M564 224L564 235A11 11 0 0 0 575 224" fill="none" stroke="#555" stroke-width="0.8"/>
<rect x="576.8" y="274.2" width="3.9" height="19.1" fill="#fff"/>
<rect x="576" y="294.2" width="5" height="5.8" fill="#0a0a0a"/>
<rect x="577.5" y="295.5" width="2.2" height="3" fill="#fff"/>
<rect x="542.55" y="301.55" width="16.1" height="3.6" fill="#0a0a0a"/>
<rect x="543.75" y="303" width="13.7" height="1" fill="#fff"/>
<path d="M558.5 305L558.5 318A13 13 0 0 0 571.5 305" fill="none" stroke="#555" stroke-width="0.8"/>
<rect x="572.85" y="301.55" width="4.3" height="33.6" fill="#0a0a0a"/>
<rect x="574" y="302.95" width="1" height="30.8" fill="#fff"/>
<rect x="577" y="328.3" width="6.5" height="5.7" fill="#0a0a0a"/>
<rect x="602" y="328.3" width="6.7" height="5.7" fill="#0a0a0a"/>
<rect x="612" y="328.3" width="6.5" height="5.7" fill="#0a0a0a"/>
<rect x="650.2" y="329" width="10.8" height="5" fill="#0a0a0a"/>
<rect x="692.7" y="329" width="10.8" height="5" fill="#0a0a0a"/>
<rect x="578.7" y="330" width="3.3" height="2.5" fill="#fff"/>
<rect x="603.7" y="330" width="3.3" height="2.5" fill="#fff"/>
<rect x="613.7" y="330" width="3.3" height="2.5" fill="#fff"/>
<rect x="652" y="330.7" width="7" height="1.8" fill="#fff"/>
<rect x="694.5" y="330.7" width="7.2" height="1.8" fill="#fff"/>
<path d="M557 333L557 321A12 12 0 0 0 545 333" fill="none" stroke="#555" stroke-width="0.8"/>
<rect x="626.65" y="195.15" width="135" height="4.2" fill="#0a0a0a"/>
<rect x="628.05" y="197" width="132.2" height="1" fill="#fff"/>
<rect x="631.65" y="195.15" width="4.2" height="32" fill="#0a0a0a"/>
<rect x="633" y="196.55" width="1" height="29.2" fill="#fff"/>
<rect x="756.55" y="195.15" width="4.8" height="50" fill="#0a0a0a"/>
<rect x="758" y="196.55" width="2" height="47.2" fill="#fff"/>
<rect x="646.8" y="199" width="3.4" height="22" fill="#0a0a0a"/>
<rect x="660.97" y="199" width="3.4" height="22" fill="#0a0a0a"/>
<rect x="675.14" y="199" width="3.4" height="22" fill="#0a0a0a"/>
<rect x="689.31" y="199" width="3.4" height="22" fill="#0a0a0a"/>
<rect x="703.48" y="199" width="3.4" height="22" fill="#0a0a0a"/>
<rect x="717.65" y="199" width="3.4" height="22" fill="#0a0a0a"/>
<rect x="731.82" y="199" width="3.4" height="22" fill="#0a0a0a"/>
<path d="M612.7 210L625.7 210A13 13 0 0 0 612.7 197" fill="none" stroke="#555" stroke-width="0.8"/>
<path d="M634 240.5L634 227.5A13 13 0 0 0 621 240.5" fill="none" stroke="#555" stroke-width="0.8"/>
<rect x="609.15" y="240.35" width="151" height="4.1" fill="#0a0a0a"/>
<rect x="610.55" y="242" width="148.2" height="1" fill="#fff"/>
<rect x="611.65" y="244.35" width="79" height="7.3" fill="#0a0a0a"/>
<rect x="613.05" y="246" width="76.2" height="4" fill="#fff"/>
<line x1="626.8" y1="245" x2="626.8" y2="251" stroke="#0a0a0a" stroke-width="1"/>
<rect x="690.55" y="244.05" width="3.9" height="26.1" fill="#0a0a0a"/>
<rect x="692" y="245.4" width="1" height="23.4" fill="#fff"/>
<rect x="690.55" y="266.55" width="14.1" height="3.8" fill="#0a0a0a"/>
<rect x="691.85" y="268" width="11.5" height="1" fill="#fff"/>
<circle cx="698" cy="250.3" r="2.3" fill="#fff" stroke="#777" stroke-width="0.6"/><circle cx="698" cy="262" r="2.3" fill="#fff" stroke="#777" stroke-width="0.6"/>
<ellipse cx="617.7" cy="259" rx="2.4" ry="3.3" fill="#fff" stroke="#777" stroke-width="0.6"/>
<ellipse cx="639" cy="259" rx="2.4" ry="3.3" fill="#fff" stroke="#777" stroke-width="0.6"/>
<ellipse cx="652.7" cy="259" rx="2.4" ry="3.3" fill="#fff" stroke="#777" stroke-width="0.6"/>
<circle cx="664.5" cy="254" r="1.6" fill="#ddd" stroke="#777" stroke-width="0.5"/>
<line x1="669.8" y1="252" x2="669.8" y2="259" stroke="#555" stroke-width="0.7"/>
<circle cx="675.2" cy="254" r="1.6" fill="#ddd" stroke="#777" stroke-width="0.5"/>
<line x1="680.5" y1="252" x2="680.5" y2="259" stroke="#555" stroke-width="0.7"/>
<circle cx="686" cy="254" r="1.6" fill="#ddd" stroke="#777" stroke-width="0.5"/>
<line x1="691.3" y1="252" x2="691.3" y2="259" stroke="#555" stroke-width="0.7"/>
<line x1="626.8" y1="252" x2="626.8" y2="290" stroke="#555" stroke-width="0.7"/>
<line x1="645.2" y1="252" x2="645.2" y2="274" stroke="#555" stroke-width="0.8"/>
<line x1="659.3" y1="252" x2="659.3" y2="274" stroke="#555" stroke-width="0.8"/>
<path d="M645.2 274L638.2 274A7 7 0 0 1 645.2 267" fill="none" stroke="#555" stroke-width="0.7"/>
<path d="M659.3 274L652.3 274A7 7 0 0 1 659.3 267" fill="none" stroke="#555" stroke-width="0.7"/>
<rect x="611.65" y="291.55" width="100.5" height="3.8" fill="#0a0a0a"/>
<rect x="612.95" y="293" width="97.9" height="1" fill="#fff"/>
<rect x="611.8" y="295" width="6" height="6.7" fill="#0a0a0a"/>
<rect x="613.5" y="296.5" width="2.8" height="3.5" fill="#fff"/>
<rect x="674.3" y="294.2" width="10" height="5.8" fill="#0a0a0a"/>
<rect x="676.5" y="296" width="5.7" height="2.5" fill="#fff"/>
<line x1="704.3" y1="270" x2="704.3" y2="291.7" stroke="#666" stroke-width="0.7"/>
<line x1="712" y1="294.7" x2="731.2" y2="294.7" stroke="#666" stroke-width="0.7"/>
<line x1="731.2" y1="294.7" x2="731.2" y2="328" stroke="#666" stroke-width="0.7"/>
<rect x="722.8" y="328.3" width="8.4" height="5.7" fill="#0a0a0a"/>
<rect x="724.5" y="330.3" width="5" height="2.2" fill="#fff"/>
<rect x="711.85" y="242.35" width="90.3" height="4.5" fill="#0a0a0a"/>
<rect x="713.25" y="244" width="87.5" height="2" fill="#fff"/>
<rect x="761.05" y="202.85" width="6.1" height="4" fill="#0a0a0a"/>
<rect x="762.45" y="204" width="3.3" height="1" fill="#fff"/>
<rect x="783.55" y="202.85" width="21.1" height="4" fill="#0a0a0a"/>
<rect x="784.95" y="204" width="18.3" height="1" fill="#fff"/>
<rect x="800.15" y="202.85" width="4.5" height="40.8" fill="#0a0a0a"/>
<rect x="801" y="204.25" width="2" height="38" fill="#fff"/>
<rect x="756.85" y="240.35" width="47.8" height="4" fill="#0a0a0a"/>
<rect x="758.25" y="242" width="45" height="1" fill="#fff"/>
<line x1="767" y1="204.5" x2="783.7" y2="204.5" stroke="#777" stroke-width="0.7"/>
<rect x="755.55" y="244.05" width="4.1" height="69.1" fill="#0a0a0a"/>
<rect x="757" y="245.45" width="1" height="66.3" fill="#fff"/>
<rect x="791.05" y="244.05" width="4.4" height="34.6" fill="#0a0a0a"/>
<rect x="793" y="245.45" width="1" height="31.8" fill="#fff"/>
<rect x="793.55" y="274.85" width="8.6" height="4" fill="#0a0a0a"/>
<rect x="794.95" y="276" width="5.8" height="1" fill="#fff"/>
<rect x="757.8" y="246.7" width="4.2" height="4.3" fill="#0a0a0a"/>
<rect x="787" y="246.7" width="5" height="5" fill="#0a0a0a"/>
<rect x="757.8" y="305" width="3.4" height="5" fill="#0a0a0a"/>
<rect x="779.5" y="294" width="5.8" height="16" fill="#0a0a0a"/>
<rect x="782" y="295.5" width="2.3" height="2.5" fill="#fff"/>
<rect x="749.35" y="309.55" width="53.8" height="4" fill="#0a0a0a"/>
<rect x="750.75" y="311" width="51" height="1" fill="#fff"/>
<rect x="773.55" y="310.85" width="4.4" height="26.6" fill="#0a0a0a"/>
<rect x="775" y="312.25" width="1" height="23.8" fill="#fff"/>
<circle cx="750.7" cy="250" r="2.2" fill="#fff" stroke="#777" stroke-width="0.6"/>
<circle cx="750.7" cy="260" r="2.2" fill="#fff" stroke="#777" stroke-width="0.6"/>
<circle cx="750.7" cy="270.3" r="2.2" fill="#fff" stroke="#777" stroke-width="0.6"/>
<circle cx="750.7" cy="281.3" r="2.2" fill="#fff" stroke="#777" stroke-width="0.6"/>
<rect x="746.05" y="286.85" width="10.6" height="3.7" fill="#0a0a0a"/>
<rect x="747.3" y="288" width="8.1" height="1" fill="#fff"/>
<rect x="732.65" y="309.85" width="4.5" height="25.3" fill="#0a0a0a"/>
<rect x="734" y="311.25" width="2" height="22.5" fill="#fff"/>
<path d="M737 311L737 324A13 13 0 0 0 750 311" fill="none" stroke="#555" stroke-width="0.8"/>
<path d="M773.5 333.5L773.5 320.5A13 13 0 0 0 760.5 333.5" fill="none" stroke="#555" stroke-width="0.8"/>
<path d="M778 333.5L778 320.5A13 13 0 0 1 791 333.5" fill="none" stroke="#555" stroke-width="0.8"/>
<path d="M816 311.5L816 324.5A13 13 0 0 1 803 311.5" fill="none" stroke="#555" stroke-width="0.8"/>
<line x1="786.5" y1="279" x2="786.5" y2="294" stroke="#777" stroke-width="0.6"/>
<rect x="815.35" y="242.85" width="5.1" height="36.3" fill="#0a0a0a"/>
<rect x="817" y="244.25" width="2" height="33.5" fill="#fff"/>
<rect x="814.85" y="275.85" width="4.3" height="14.3" fill="#0a0a0a"/>
<rect x="816" y="277.25" width="1" height="11.5" fill="#fff"/>
<rect x="815.85" y="309.85" width="4.6" height="25.3" fill="#0a0a0a"/>
<rect x="817" y="311.25" width="2" height="22.5" fill="#fff"/>
<path d="M802.5 246.5L802.5 259.5A13 13 0 0 0 815.5 246.5" fill="none" stroke="#555" stroke-width="0.8"/>
<path d="M802.5 279L802.5 292A13 13 0 0 0 815.5 279" fill="none" stroke="#555" stroke-width="0.8"/>
<rect x="819.85" y="254.05" width="37.8" height="4.4" fill="#0a0a0a"/>
<rect x="821.25" y="256" width="35" height="1" fill="#fff"/>
<rect x="835.15" y="170.85" width="4.5" height="61.3" fill="#0a0a0a"/>
<rect x="836" y="172.25" width="2" height="58.5" fill="#fff"/>
<line x1="841.7" y1="216" x2="841.7" y2="232" stroke="#666" stroke-width="0.7"/>
<rect x="854.65" y="170.85" width="4.3" height="67.8" fill="#0a0a0a"/>
<rect x="856" y="172.25" width="1" height="65" fill="#fff"/>
<rect x="854.65" y="253.15" width="5" height="24" fill="#0a0a0a"/>
<rect x="856" y="254.55" width="2" height="21.2" fill="#fff"/>
<rect x="856.85" y="274.85" width="32.3" height="4.6" fill="#0a0a0a"/>
<rect x="858.25" y="276" width="29.5" height="2" fill="#fff"/>
<rect x="856.85" y="188.15" width="31.3" height="4.5" fill="#0a0a0a"/>
<rect x="858.25" y="189" width="28.5" height="2" fill="#fff"/>
<circle cx="880.3" cy="198.5" r="2.4" fill="#fff" stroke="#777" stroke-width="0.6"/><circle cx="880.3" cy="223.3" r="2.4" fill="#fff" stroke="#777" stroke-width="0.6"/>
<rect x="877" y="231.3" width="8.5" height="2.2" fill="#0a0a0a"/>
<line x1="836.5" y1="232" x2="855" y2="232" stroke="#777" stroke-width="0.6"/>
<line x1="836.5" y1="232" x2="836.5" y2="252.5" stroke="#777" stroke-width="0.6"/>
<path d="M857 252.5L844.5 252.5A12.5 12.5 0 0 1 857 240" fill="none" stroke="#555" stroke-width="0.8"/>
<path d="M886 252.5L873.5 252.5A12.5 12.5 0 0 1 886 240" fill="none" stroke="#555" stroke-width="0.8"/>
<rect x="832" y="259.2" width="3.3" height="20" fill="#0a0a0a"/>
<path d="M855 280L844 280A11 11 0 0 0 855 291" fill="none" stroke="#555" stroke-width="0.8"/>
<line x1="855.5" y1="301" x2="877" y2="301" stroke="#777" stroke-width="0.6"/>
<line x1="855.5" y1="279" x2="855.5" y2="325" stroke="#777" stroke-width="0.6"/>
<ellipse cx="871" cy="295" rx="3" ry="2.6" fill="#fff" stroke="#777" stroke-width="0.6"/>
<rect x="876.05" y="279.05" width="4.5" height="56.1" fill="#0a0a0a"/>
<rect x="877" y="280.45" width="2" height="53.3" fill="#fff"/>
<rect x="879.85" y="279.85" width="6.3" height="54.3" fill="#0a0a0a"/>
<rect x="882" y="281.25" width="3" height="51.5" fill="#fff"/>
<rect x="884" y="293.9" width="5.3" height="4.9" fill="#0a0a0a"/>
<rect x="885.3" y="295" width="2.7" height="2" fill="#fff"/>
<rect x="821.5" y="310.5" width="32" height="23" fill="none" stroke="#777" stroke-width="0.6"/>
<circle cx="827.8" cy="330" r="2.2" fill="#fff" stroke="#777" stroke-width="0.6"/>
<circle cx="838.7" cy="330" r="2.2" fill="#fff" stroke="#777" stroke-width="0.6"/>
<circle cx="849.5" cy="330" r="2.2" fill="#fff" stroke="#777" stroke-width="0.6"/>
<rect x="853.7" y="325" width="3.3" height="8.5" fill="#0a0a0a"/>
<circle cx="875" cy="306.7" r="1.4" fill="#eee" stroke="#777" stroke-width="0.5"/>
<line x1="870" y1="311.2" x2="876" y2="311.2" stroke="#666" stroke-width="0.6"/>
<circle cx="875" cy="316.7" r="1.4" fill="#eee" stroke="#777" stroke-width="0.5"/>
<line x1="870" y1="321.2" x2="876" y2="321.2" stroke="#666" stroke-width="0.6"/>
<circle cx="875" cy="327.5" r="1.4" fill="#eee" stroke="#777" stroke-width="0.5"/>
<line x1="870" y1="332" x2="876" y2="332" stroke="#666" stroke-width="0.6"/>
<rect x="371.1" y="168.3" width="5.2" height="9.7" fill="#fff" stroke="#0a0a0a" stroke-width="1.6"/>
<rect x="473.5" y="168.3" width="5.2" height="9.7" fill="#fff" stroke="#0a0a0a" stroke-width="1.6"/>
<rect x="576.3" y="168.3" width="5.2" height="9.7" fill="#fff" stroke="#0a0a0a" stroke-width="1.6"/>
<rect x="678.5" y="168.3" width="5.2" height="9.7" fill="#fff" stroke="#0a0a0a" stroke-width="1.6"/>
<rect x="781.1" y="168.3" width="5.2" height="9.7" fill="#fff" stroke="#0a0a0a" stroke-width="1.6"/>
<rect x="883.6" y="168.3" width="5.2" height="9.7" fill="#fff" stroke="#0a0a0a" stroke-width="1.6"/>
<line x1="371.5" y1="337" x2="371.5" y2="360" stroke="#aaa" stroke-width="0.7"/>
<line x1="886.5" y1="337" x2="886.5" y2="360" stroke="#aaa" stroke-width="0.7"/>
<line x1="315.7" y1="599" x2="315.7" y2="661" stroke="#aaa" stroke-width="0.7"/>
<line x1="315.7" y1="661" x2="371" y2="661" stroke="#aaa" stroke-width="0.7"/>
<line x1="371.3" y1="669" x2="371.3" y2="691" stroke="#aaa" stroke-width="0.7"/>
<line x1="944.5" y1="337" x2="944.5" y2="360" stroke="#aaa" stroke-width="0.7"/>
<rect x="370.7" y="359.7" width="517.6" height="4.9" fill="#0a0a0a"/>
<rect x="372.2" y="361" width="514.6" height="2" fill="#fff"/>
<rect x="371" y="359.7" width="4.3" height="96.6" fill="#0a0a0a"/>
<rect x="373" y="361.2" width="1" height="93.6" fill="#fff"/>
<rect x="370.5" y="416.5" width="5" height="5" fill="#0a0a0a"/>
<rect x="372" y="418" width="2" height="2" fill="#fff"/>
<line x1="373.5" y1="469" x2="373.5" y2="661" stroke="#333" stroke-width="1.6" stroke-dasharray="14 0.8"/>
<rect x="371.5" y="456" width="3.5" height="13" fill="#c4c5c7"/>
<path d="M372 456L360 456A12 12 0 0 0 372 468" fill="none" stroke="#555" stroke-width="0.8"/>
<path d="M372 621L359 621A13 13 0 0 0 372 634" fill="none" stroke="#555" stroke-width="0.8"/>
<path d="M372 647L359 647A13 13 0 0 1 372 634" fill="none" stroke="#555" stroke-width="0.8"/>
<line x1="375" y1="662" x2="681" y2="662" stroke="#333" stroke-width="1.5" stroke-dasharray="21 0.8"/>
<rect x="370.8" y="661.8" width="6" height="6.4" fill="#fff" stroke="#0a0a0a" stroke-width="1.6"/>
<rect x="473.1" y="661.8" width="6" height="6.4" fill="#fff" stroke="#0a0a0a" stroke-width="1.6"/>
<rect x="575.3" y="661.8" width="6" height="6.4" fill="#fff" stroke="#0a0a0a" stroke-width="1.6"/>
<rect x="678.3" y="661.8" width="6" height="6.4" fill="#fff" stroke="#0a0a0a" stroke-width="1.6"/>
<rect x="474.05" y="417.05" width="3.9" height="3.9" fill="#fff" stroke="#0a0a0a" stroke-width="1.5"/>
<rect x="474.05" y="540.05" width="3.9" height="3.9" fill="#fff" stroke="#0a0a0a" stroke-width="1.5"/>
<rect x="577.05" y="417.05" width="3.9" height="3.9" fill="#fff" stroke="#0a0a0a" stroke-width="1.5"/>
<rect x="577.05" y="540.05" width="3.9" height="3.9" fill="#fff" stroke="#0a0a0a" stroke-width="1.5"/>
<rect x="680" y="379.7" width="4.5" height="45.6" fill="#0a0a0a"/>
<rect x="682" y="381.2" width="1" height="42.6" fill="#fff"/>
<rect x="680" y="450.7" width="4.5" height="212.6" fill="#0a0a0a"/>
<rect x="682" y="452.2" width="1" height="209.6" fill="#fff"/>
<rect x="679.7" y="416.7" width="4.6" height="4.6" fill="#fff" stroke="#0a0a0a" stroke-width="1.4"/>
<rect x="679.7" y="539.7" width="4.6" height="4.6" fill="#fff" stroke="#0a0a0a" stroke-width="1.4"/>
<rect x="680" y="362.7" width="4.5" height="4.6" fill="#0a0a0a"/>
<rect x="681" y="364" width="2" height="2" fill="#fff"/>
<path d="M684.5 367L697.5 367A13 13 0 0 1 684.5 380" fill="none" stroke="#555" stroke-width="0.8"/>
<path d="M684.5 425L697.5 425A13 13 0 0 1 684.5 438" fill="none" stroke="#555" stroke-width="0.8"/>
<path d="M684.5 451L697.5 451A13 13 0 0 0 684.5 438" fill="none" stroke="#555" stroke-width="0.8"/>
<rect x="736" y="364" width="3.6" height="150" fill="#0a0a0a"/>
<rect x="683" y="416.3" width="55" height="3.4" fill="#0a0a0a"/>
<rect x="683" y="510.3" width="56.6" height="3.7" fill="#0a0a0a"/>
<rect x="738" y="470.2" width="100.5" height="3.3" fill="#0a0a0a"/>
<rect x="872" y="470.2" width="13" height="3.3" fill="#0a0a0a"/>
<rect x="853" y="398" width="4" height="75.5" fill="#0a0a0a"/>
<rect x="853" y="383" width="30.5" height="3.3" fill="#0a0a0a"/>
<rect x="853.5" y="415.5" width="5" height="5.5" fill="#0a0a0a"/>
<rect x="855" y="416.8" width="2" height="2.9" fill="#fff"/>
<path d="M853 472L840 472A13 13 0 0 1 853 459" fill="none" stroke="#555" stroke-width="0.8"/>
<path d="M857 472L870 472A13 13 0 0 0 857 459" fill="none" stroke="#555" stroke-width="0.8"/>
<rect x="855.2" y="541.2" width="1.6" height="1.6" fill="#0a0a0a"/>
<rect x="853.5" y="538.2" width="5" height="8.1" fill="#0a0a0a"/>
<rect x="855" y="539.6" width="2" height="5.3" fill="#fff"/>
<rect x="883.2" y="359.7" width="4.9" height="8.1" fill="#0a0a0a"/>
<rect x="885" y="361.1" width="2" height="5.3" fill="#fff"/>
<rect x="883.2" y="379.7" width="4.9" height="92.6" fill="#0a0a0a"/>
<rect x="885" y="381.2" width="2" height="89.6" fill="#fff"/>
<rect x="883.2" y="486.7" width="4.9" height="178.6" fill="#0a0a0a"/>
<rect x="885" y="488.2" width="2" height="175.6" fill="#fff"/>
<path d="M883.5 367.5L870.5 367.5A13 13 0 0 0 883.5 380.5" fill="none" stroke="#555" stroke-width="0.8"/>
<path d="M883.5 487L870.5 487A13 13 0 0 1 883.5 474" fill="none" stroke="#555" stroke-width="0.8"/>
<rect x="719.7" y="661.7" width="168.6" height="4.1" fill="#0a0a0a"/>
<rect x="721.1" y="663" width="165.8" height="1" fill="#fff"/>
<rect x="683.7" y="661.7" width="9.6" height="4.1" fill="#0a0a0a"/>
<rect x="685.1" y="663" width="6.8" height="1" fill="#fff"/>
<rect x="780.8" y="661.8" width="5.9" height="6.4" fill="#fff" stroke="#0a0a0a" stroke-width="1.6"/>
<rect x="883.8" y="661.8" width="5.9" height="6.4" fill="#fff" stroke="#0a0a0a" stroke-width="1.6"/>
<path d="M693 663L693 649.5A13.5 13.5 0 0 1 706.5 663" fill="none" stroke="#555" stroke-width="0.8"/>
<path d="M720 663L720 649.5A13.5 13.5 0 0 0 706.5 663" fill="none" stroke="#555" stroke-width="0.8"/>
<rect x="361" y="964" width="539" height="5" fill="#0a0a0a"/>
<rect x="362.5" y="966" width="536" height="2" fill="#fff"/>
<rect x="317.7" y="804.7" width="5.1" height="164.6" fill="#0a0a0a"/>
<rect x="319" y="806.2" width="2" height="161.6" fill="#fff"/>
<rect x="364.75" y="805.75" width="4.5" height="162.5" fill="#fff" stroke="#0a0a0a" stroke-width="1.5"/>
<rect x="320" y="944" width="48" height="26" fill="#fff"/>
<line x1="322" y1="944.7" x2="366" y2="944.7" stroke="#0a0a0a" stroke-width="1.7"/>
<path d="M318.9 805V968.7H328V950.5H361V968.7H370" fill="none" stroke="#0a0a0a" stroke-width="1.8"/>
<line x1="369.2" y1="805" x2="369.2" y2="969" stroke="#0a0a0a" stroke-width="1.7"/>
<line x1="328" y1="965" x2="361" y2="965" stroke="#999" stroke-width="0.7"/>
<rect x="889.2" y="804.7" width="5.1" height="164.6" fill="#0a0a0a"/>
<rect x="891" y="806.2" width="2" height="161.6" fill="#fff"/>
<rect x="936.25" y="805.75" width="4.5" height="162.5" fill="#fff" stroke="#0a0a0a" stroke-width="1.5"/>
<rect x="891.5" y="944" width="48" height="26" fill="#fff"/>
<line x1="893.5" y1="944.7" x2="937.5" y2="944.7" stroke="#0a0a0a" stroke-width="1.7"/>
<path d="M890.4 805V968.7H899.5V950.5H932.5V968.7H941.5" fill="none" stroke="#0a0a0a" stroke-width="1.8"/>
<line x1="940.7" y1="805" x2="940.7" y2="969" stroke="#0a0a0a" stroke-width="1.7"/>
<line x1="899.5" y1="965" x2="932.5" y2="965" stroke="#999" stroke-width="0.7"/>
<rect x="338.7" y="805.7" width="33.6" height="4.2" fill="#0a0a0a"/>
<rect x="340.1" y="807" width="30.8" height="1" fill="#fff"/>
<path d="M339 808L339 823A15 15 0 0 1 324 808" fill="none" stroke="#555" stroke-width="0.8"/>
<rect x="367.7" y="794.7" width="4.6" height="15.6" fill="#0a0a0a"/>
<rect x="369" y="796" width="2" height="13" fill="#fff"/>
<rect x="319.2" y="811.7" width="4.9" height="34.6" fill="#0a0a0a"/>
<rect x="321" y="812.9" width="2" height="32.2" fill="#fff"/>
<line x1="324.5" y1="834.5" x2="339" y2="834.5" stroke="#888" stroke-width="0.6"/>
<line x1="324.5" y1="837.6" x2="339" y2="837.6" stroke="#888" stroke-width="0.6"/>
<line x1="324.5" y1="840.7" x2="339" y2="840.7" stroke="#888" stroke-width="0.6"/>
<line x1="324.5" y1="843.8" x2="339" y2="843.8" stroke="#888" stroke-width="0.6"/>
<line x1="324.5" y1="846.9" x2="339" y2="846.9" stroke="#888" stroke-width="0.6"/>
<line x1="324.5" y1="850" x2="339" y2="850" stroke="#888" stroke-width="0.6"/>
<line x1="324.5" y1="853.1" x2="339" y2="853.1" stroke="#888" stroke-width="0.6"/>
<line x1="324.5" y1="856.2" x2="339" y2="856.2" stroke="#888" stroke-width="0.6"/>
<line x1="324.5" y1="859.3" x2="339" y2="859.3" stroke="#888" stroke-width="0.6"/>
<line x1="324.5" y1="862.4" x2="339" y2="862.4" stroke="#888" stroke-width="0.6"/>
<line x1="324.5" y1="865.5" x2="339" y2="865.5" stroke="#888" stroke-width="0.6"/>
<line x1="324.5" y1="868.6" x2="339" y2="868.6" stroke="#888" stroke-width="0.6"/>
<line x1="324.5" y1="871.7" x2="339" y2="871.7" stroke="#888" stroke-width="0.6"/>
<line x1="324.5" y1="874.8" x2="339" y2="874.8" stroke="#888" stroke-width="0.6"/>
<line x1="324.5" y1="834" x2="324.5" y2="876" stroke="#666" stroke-width="0.6"/>
<line x1="339" y1="834" x2="339" y2="876" stroke="#666" stroke-width="0.6"/>
<line x1="324.5" y1="878" x2="339" y2="878" stroke="#888" stroke-width="0.6" stroke-dasharray="1.5 1.2"/>
<line x1="324.5" y1="881.1" x2="339" y2="881.1" stroke="#888" stroke-width="0.6" stroke-dasharray="1.5 1.2"/>
<line x1="324.5" y1="884.2" x2="339" y2="884.2" stroke="#888" stroke-width="0.6" stroke-dasharray="1.5 1.2"/>
<line x1="324.5" y1="887.3" x2="339" y2="887.3" stroke="#888" stroke-width="0.6" stroke-dasharray="1.5 1.2"/>
<line x1="324.5" y1="890.4" x2="339" y2="890.4" stroke="#888" stroke-width="0.6" stroke-dasharray="1.5 1.2"/>
<line x1="324.5" y1="893.5" x2="339" y2="893.5" stroke="#888" stroke-width="0.6" stroke-dasharray="1.5 1.2"/>
<line x1="324.5" y1="896.6" x2="339" y2="896.6" stroke="#888" stroke-width="0.6" stroke-dasharray="1.5 1.2"/>
<line x1="324.5" y1="899.7" x2="339" y2="899.7" stroke="#888" stroke-width="0.6" stroke-dasharray="1.5 1.2"/>
<line x1="324.5" y1="902.8" x2="339" y2="902.8" stroke="#888" stroke-width="0.6" stroke-dasharray="1.5 1.2"/>
<line x1="324.5" y1="905.9" x2="339" y2="905.9" stroke="#888" stroke-width="0.6" stroke-dasharray="1.5 1.2"/>
<line x1="324.5" y1="909" x2="339" y2="909" stroke="#888" stroke-width="0.6" stroke-dasharray="1.5 1.2"/>
<line x1="324.5" y1="912.1" x2="339" y2="912.1" stroke="#888" stroke-width="0.6" stroke-dasharray="1.5 1.2"/>
<line x1="324.5" y1="915.2" x2="339" y2="915.2" stroke="#888" stroke-width="0.6" stroke-dasharray="1.5 1.2"/>
<line x1="324.5" y1="918.3" x2="339" y2="918.3" stroke="#888" stroke-width="0.6" stroke-dasharray="1.5 1.2"/>
<line x1="324.5" y1="876" x2="324.5" y2="919" stroke="#111" stroke-width="1.2" stroke-dasharray="2 1.4"/>
<line x1="339" y1="876" x2="339" y2="919" stroke="#111" stroke-width="1.2" stroke-dasharray="2 1.4"/>
<path d="M324 879l5-2 2-3 3 4 5-3" fill="none" stroke="#333" stroke-width="0.7"/>
<rect x="890.7" y="805.7" width="32.3" height="4.4" fill="#0a0a0a"/>
<rect x="892.1" y="807" width="29.5" height="1" fill="#fff"/>
<path d="M937 808L937 822.5A14.5 14.5 0 0 1 922.5 808" fill="none" stroke="#555" stroke-width="0.8"/>
<rect x="937.2" y="811.7" width="4.6" height="34.6" fill="#0a0a0a"/>
<rect x="938" y="812.9" width="2" height="32.2" fill="#fff"/>
<line x1="921" y1="834.5" x2="936.5" y2="834.5" stroke="#888" stroke-width="0.6"/>
<line x1="921" y1="837.6" x2="936.5" y2="837.6" stroke="#888" stroke-width="0.6"/>
<line x1="921" y1="840.7" x2="936.5" y2="840.7" stroke="#888" stroke-width="0.6"/>
<line x1="921" y1="843.8" x2="936.5" y2="843.8" stroke="#888" stroke-width="0.6"/>
<line x1="921" y1="846.9" x2="936.5" y2="846.9" stroke="#888" stroke-width="0.6"/>
<line x1="921" y1="850" x2="936.5" y2="850" stroke="#888" stroke-width="0.6"/>
<line x1="921" y1="853.1" x2="936.5" y2="853.1" stroke="#888" stroke-width="0.6"/>
<line x1="921" y1="856.2" x2="936.5" y2="856.2" stroke="#888" stroke-width="0.6"/>
<line x1="921" y1="859.3" x2="936.5" y2="859.3" stroke="#888" stroke-width="0.6"/>
<line x1="921" y1="862.4" x2="936.5" y2="862.4" stroke="#888" stroke-width="0.6"/>
<line x1="921" y1="865.5" x2="936.5" y2="865.5" stroke="#888" stroke-width="0.6"/>
<line x1="921" y1="868.6" x2="936.5" y2="868.6" stroke="#888" stroke-width="0.6"/>
<line x1="921" y1="871.7" x2="936.5" y2="871.7" stroke="#888" stroke-width="0.6"/>
<line x1="921" y1="874.8" x2="936.5" y2="874.8" stroke="#888" stroke-width="0.6"/>
<line x1="921" y1="834" x2="921" y2="876" stroke="#666" stroke-width="0.6"/>
<line x1="936.5" y1="834" x2="936.5" y2="876" stroke="#666" stroke-width="0.6"/>
<line x1="921" y1="878" x2="936.5" y2="878" stroke="#888" stroke-width="0.6" stroke-dasharray="1.5 1.2"/>
<line x1="921" y1="881.1" x2="936.5" y2="881.1" stroke="#888" stroke-width="0.6" stroke-dasharray="1.5 1.2"/>
<line x1="921" y1="884.2" x2="936.5" y2="884.2" stroke="#888" stroke-width="0.6" stroke-dasharray="1.5 1.2"/>
<line x1="921" y1="887.3" x2="936.5" y2="887.3" stroke="#888" stroke-width="0.6" stroke-dasharray="1.5 1.2"/>
<line x1="921" y1="890.4" x2="936.5" y2="890.4" stroke="#888" stroke-width="0.6" stroke-dasharray="1.5 1.2"/>
<line x1="921" y1="893.5" x2="936.5" y2="893.5" stroke="#888" stroke-width="0.6" stroke-dasharray="1.5 1.2"/>
<line x1="921" y1="896.6" x2="936.5" y2="896.6" stroke="#888" stroke-width="0.6" stroke-dasharray="1.5 1.2"/>
<line x1="921" y1="899.7" x2="936.5" y2="899.7" stroke="#888" stroke-width="0.6" stroke-dasharray="1.5 1.2"/>
<line x1="921" y1="902.8" x2="936.5" y2="902.8" stroke="#888" stroke-width="0.6" stroke-dasharray="1.5 1.2"/>
<line x1="921" y1="905.9" x2="936.5" y2="905.9" stroke="#888" stroke-width="0.6" stroke-dasharray="1.5 1.2"/>
<line x1="921" y1="909" x2="936.5" y2="909" stroke="#888" stroke-width="0.6" stroke-dasharray="1.5 1.2"/>
<line x1="921" y1="912.1" x2="936.5" y2="912.1" stroke="#888" stroke-width="0.6" stroke-dasharray="1.5 1.2"/>
<line x1="921" y1="915.2" x2="936.5" y2="915.2" stroke="#888" stroke-width="0.6" stroke-dasharray="1.5 1.2"/>
<line x1="921" y1="918.3" x2="936.5" y2="918.3" stroke="#888" stroke-width="0.6" stroke-dasharray="1.5 1.2"/>
<line x1="921" y1="876" x2="921" y2="919" stroke="#111" stroke-width="1.2" stroke-dasharray="2 1.4"/>
<line x1="936.5" y1="876" x2="936.5" y2="919" stroke="#111" stroke-width="1.2" stroke-dasharray="2 1.4"/>
<path d="M921 879l5-2 2-3 3 4 5-3" fill="none" stroke="#333" stroke-width="0.7"/>
<rect x="368" y="696.5" width="8.5" height="36.8" fill="#fff"/>
<rect x="370.3" y="691.3" width="39.7" height="5.1" fill="#0a0a0a"/>
<rect x="372.2" y="693" width="35.9" height="1" fill="#fff"/>
<rect x="419.7" y="691.3" width="93.3" height="5.1" fill="#0a0a0a"/>
<rect x="421.6" y="693" width="89.5" height="1" fill="#fff"/>
<rect x="526.5" y="691.3" width="396.5" height="5.1" fill="#0a0a0a"/>
<rect x="528.4" y="693" width="392.7" height="1" fill="#fff"/>
<rect x="410.6" y="690.5" width="8.8" height="6.5" fill="#fff"/>
<rect x="406.4" y="696" width="14.2" height="5.3" fill="#0a0a0a"/>
<rect x="408.1" y="698" width="10.8" height="2" fill="#fff"/>
<rect x="406.4" y="691.7" width="4.2" height="9.1" fill="#0a0a0a"/>
<rect x="408" y="693.18" width="1" height="6.15" fill="#fff"/>
<rect x="408" y="693.5" width="1.2" height="6" fill="#fff"/>
<path d="M513 695.5L513 708A12.5 12.5 0 0 0 525.5 695.5" fill="none" stroke="#555" stroke-width="0.8"/>
<rect x="513" y="696.6" width="13.5" height="1" fill="#a8aaad"/>
<rect x="368.7" y="845.7" width="4.1" height="120.6" fill="#0a0a0a"/>
<rect x="370" y="847.12" width="1" height="117.75" fill="#fff"/>
<rect x="375.5" y="694.7" width="4.8" height="9.6" fill="#0a0a0a"/>
<rect x="377" y="696.2" width="2" height="6.6" fill="#fff"/>
<rect x="375.5" y="720.5" width="4.8" height="14.3" fill="#0a0a0a"/>
<rect x="377" y="722" width="2" height="11.3" fill="#fff"/>
<rect x="370" y="733" width="50.8" height="5" fill="#0a0a0a"/>
<rect x="371.8" y="735" width="47.2" height="1" fill="#fff"/>
<rect x="370" y="734.7" width="5.1" height="35.6" fill="#0a0a0a"/>
<rect x="372" y="736.3" width="2" height="32.4" fill="#fff"/>
<rect x="370.8" y="751.6" width="4.7" height="4.3" fill="#fff" stroke="#0a0a0a" stroke-width="1.6"/>
<rect x="370.3" y="783.3" width="50.2" height="5" fill="#0a0a0a"/>
<rect x="372.1" y="785" width="46.6" height="1" fill="#fff"/>
<rect x="370" y="802.2" width="4.9" height="7.6" fill="#0a0a0a"/>
<rect x="371" y="803.7" width="2" height="4.6" fill="#fff"/>
<rect x="369" y="807.7" width="4.1" height="38.6" fill="#0a0a0a"/>
<rect x="371" y="809.1" width="1" height="35.8" fill="#fff"/>
<path d="M374.2 783.3L386.7 783.3A12.5 12.5 0 0 0 374.2 770.8" fill="none" stroke="#555" stroke-width="0.8"/>
<path d="M374.2 788.3L386.7 788.3A12.5 12.5 0 0 1 374.2 800.8" fill="none" stroke="#555" stroke-width="0.8"/>
<rect x="420.65" y="695.95" width="3.4" height="149.1" fill="#fff" stroke="#0a0a0a" stroke-width="1.9"/>
<rect x="677.3" y="695" width="5.1" height="151" fill="#0a0a0a"/>
<rect x="679" y="696.9" width="1" height="147.2" fill="#fff"/>
<rect x="391.45" y="842.35" width="34.4" height="3.5" fill="#fff" stroke="#0a0a0a" stroke-width="1.9"/>
<rect x="424.65" y="842.35" width="187.2" height="3.5" fill="#fff" stroke="#0a0a0a" stroke-width="1.9"/>
<rect x="648.15" y="842.35" width="33.2" height="3.5" fill="#fff" stroke="#0a0a0a" stroke-width="1.9"/>
<rect x="371.1" y="841.2" width="4.8" height="4.8" fill="#fff" stroke="#0a0a0a" stroke-width="1.8"/>
<rect x="474.1" y="841.2" width="4.8" height="4.8" fill="#fff" stroke="#0a0a0a" stroke-width="1.8"/>
<rect x="576.6" y="841.2" width="4.8" height="4.8" fill="#fff" stroke="#0a0a0a" stroke-width="1.8"/>
<rect x="678.6" y="841.2" width="4.8" height="4.8" fill="#fff" stroke="#0a0a0a" stroke-width="1.8"/>
<rect x="426" y="845.7" width="4.3" height="5.6" fill="#0a0a0a"/>
<rect x="428" y="847.1" width="1" height="2.8" fill="#fff"/>
<rect x="521.7" y="845.7" width="4.3" height="5.6" fill="#0a0a0a"/>
<rect x="523" y="847.1" width="1" height="2.8" fill="#fff"/>
<rect x="425.7" y="862.2" width="4.6" height="104.1" fill="#0a0a0a"/>
<rect x="428" y="863.88" width="1" height="100.75" fill="#fff"/>
<rect x="521.5" y="862.2" width="4.6" height="104.1" fill="#0a0a0a"/>
<rect x="523" y="863.88" width="1" height="100.75" fill="#fff"/>
<path d="M377.5 846.5L377.5 859A12.5 12.5 0 0 0 390 846.5" fill="none" stroke="#555" stroke-width="0.8"/>
<path d="M427 849.5L414.5 849.5A12.5 12.5 0 0 0 427 862" fill="none" stroke="#555" stroke-width="0.8"/>
<path d="M523 849.5L509.5 849.5A13.5 13.5 0 0 0 523 863" fill="none" stroke="#555" stroke-width="0.8"/>
<path d="M612.5 845L612.5 862.5A17.5 17.5 0 0 0 630 845" fill="none" stroke="#555" stroke-width="0.8"/>
<path d="M647.5 845L647.5 862.5A17.5 17.5 0 0 1 630 845" fill="none" stroke="#555" stroke-width="0.8"/>
<rect x="371.95" y="866.95" width="4.1" height="4.1" fill="#fff" stroke="#0a0a0a" stroke-width="1.7"/>
<rect x="371.95" y="940.95" width="4.1" height="4.1" fill="#fff" stroke="#0a0a0a" stroke-width="1.7"/>
<rect x="474.45" y="866.95" width="4.1" height="4.1" fill="#fff" stroke="#0a0a0a" stroke-width="1.7"/>
<rect x="474.45" y="940.95" width="4.1" height="4.1" fill="#fff" stroke="#0a0a0a" stroke-width="1.7"/>
<rect x="576.95" y="866.95" width="4.1" height="4.1" fill="#fff" stroke="#0a0a0a" stroke-width="1.7"/>
<rect x="576.95" y="940.95" width="4.1" height="4.1" fill="#fff" stroke="#0a0a0a" stroke-width="1.7"/>
<rect x="679.45" y="866.95" width="4.1" height="4.1" fill="#fff" stroke="#0a0a0a" stroke-width="1.7"/>
<rect x="679.45" y="940.95" width="4.1" height="4.1" fill="#fff" stroke="#0a0a0a" stroke-width="1.7"/>
<rect x="474.1" y="751.6" width="4.8" height="4.8" fill="#fff" stroke="#0a0a0a" stroke-width="1.8"/>
<rect x="576.6" y="751.6" width="4.8" height="4.8" fill="#fff" stroke="#0a0a0a" stroke-width="1.8"/>
<rect x="884.8" y="866.4" width="3.8" height="3.8" fill="#fff" stroke="#0a0a0a" stroke-width="1.6"/>
<rect x="884.8" y="940.6" width="3.8" height="3.8" fill="#fff" stroke="#0a0a0a" stroke-width="1.6"/>
<rect x="887.7" y="845.7" width="3.6" height="120.6" fill="#0a0a0a"/>
<rect x="889" y="846.88" width="1" height="118.25" fill="#fff"/>
<rect x="884.75" y="692.25" width="4.5" height="153" fill="#fff" stroke="#0a0a0a" stroke-width="1.5"/>
<rect x="679" y="754.2" width="27" height="3.8" fill="#0a0a0a"/>
<rect x="737.5" y="754.2" width="48.5" height="3.8" fill="#0a0a0a"/>
<rect x="823.5" y="754.2" width="25.5" height="3.8" fill="#0a0a0a"/>
<rect x="862.5" y="754.2" width="23.5" height="3.8" fill="#0a0a0a"/>
<rect x="720" y="695" width="4.2" height="63" fill="#0a0a0a"/>
<rect x="761.7" y="695" width="3.3" height="63" fill="#0a0a0a"/>
<rect x="803.7" y="692.7" width="5.1" height="65.6" fill="#0a0a0a"/>
<rect x="805" y="694.2" width="2" height="62.6" fill="#fff"/>
<rect x="845.2" y="695" width="4" height="63" fill="#0a0a0a"/>
<rect x="721.6" y="742" width="1.4" height="14.5" fill="#fff"/>
<rect x="679.55" y="753.05" width="3.9" height="3.9" fill="#fff" stroke="#0a0a0a" stroke-width="1.5"/>
<rect x="782.8" y="751.6" width="4.4" height="4.4" fill="#fff" stroke="#0a0a0a" stroke-width="1.6"/>
<path d="M720 755L707 755A13 13 0 0 1 720 742" fill="none" stroke="#555" stroke-width="0.8"/>
<path d="M724.2 755L737.7 755A13.5 13.5 0 0 0 724.2 741.5" fill="none" stroke="#555" stroke-width="0.8"/>
<path d="M804 755L790.5 755A13.5 13.5 0 0 1 804 741.5" fill="none" stroke="#555" stroke-width="0.8"/>
<path d="M808.5 755L823 755A14.5 14.5 0 0 0 808.5 740.5" fill="none" stroke="#555" stroke-width="0.8"/>
<path d="M849.2 755L862.7 755A13.5 13.5 0 0 0 849.2 741.5" fill="none" stroke="#555" stroke-width="0.8"/>
<path d="M846 758.5L833 758.5A13 13 0 0 0 846 771.5" fill="none" stroke="#555" stroke-width="0.8"/>
<line x1="770.5" y1="757" x2="770.5" y2="778.5" stroke="#777" stroke-width="0.6"/>
<rect x="736.7" y="778" width="111.3" height="3.6" fill="#0a0a0a"/>
<rect x="736.7" y="778" width="3.3" height="17" fill="#0a0a0a"/>
<rect x="736.7" y="825.8" width="3.3" height="16.7" fill="#0a0a0a"/>
<rect x="724.2" y="807.7" width="80.8" height="3.8" fill="#0a0a0a"/>
<rect x="736.7" y="839.2" width="48.8" height="3.4" fill="#0a0a0a"/>
<rect x="844.2" y="771.7" width="4.1" height="8.3" fill="#0a0a0a"/>
<rect x="803.9" y="780.7" width="4.7" height="60.4" fill="#0a0a0a"/>
<rect x="805" y="782.1" width="2" height="57.6" fill="#fff"/>
<rect x="756" y="781" width="3.5" height="13.2" fill="#0a0a0a"/>
<rect x="756" y="826.3" width="3.5" height="13.7" fill="#0a0a0a"/>
<rect x="770.6" y="781" width="3.5" height="13.2" fill="#0a0a0a"/>
<rect x="770.6" y="826.3" width="3.5" height="13.7" fill="#0a0a0a"/>
<path d="M738.5 807.8L738.5 794.8A13 13 0 0 0 725.5 807.8" fill="none" stroke="#555" stroke-width="0.8"/>
<path d="M738.5 811.5L738.5 825A13.5 13.5 0 0 1 725 811.5" fill="none" stroke="#555" stroke-width="0.8"/>
<ellipse cx="798" cy="786.5" rx="2.4" ry="3" fill="#ddd" stroke="#888" stroke-width="0.6"/><rect x="777" y="783" width="4" height="3.6" fill="#eee" stroke="#888" stroke-width="0.5"/><rect x="777" y="834" width="4" height="3.6" fill="#eee" stroke="#888" stroke-width="0.5"/>
<rect x="679.45" y="842.75" width="4.3" height="101.5" fill="#fff" stroke="#0a0a0a" stroke-width="1.5"/>
<rect x="781.7" y="841.7" width="5" height="103.6" fill="#0a0a0a"/>
<rect x="783" y="843.2" width="2" height="100.6" fill="#fff"/>
<rect x="678.7" y="940" width="107.7" height="5" fill="#0a0a0a"/>
<rect x="680.2" y="942" width="104.7" height="2" fill="#fff"/>
<rect x="781.7" y="842" width="108.6" height="4.6" fill="#0a0a0a"/>
<rect x="783.1" y="843" width="105.8" height="2" fill="#fff"/>
<rect x="679" y="841.5" width="5" height="5" fill="#0a0a0a"/>
<rect x="680" y="843" width="2" height="2" fill="#fff"/>
<rect x="781.7" y="841.5" width="5" height="5" fill="#0a0a0a"/>
<rect x="783" y="843" width="2" height="2" fill="#fff"/>
<rect x="679" y="866" width="5" height="5" fill="#0a0a0a"/>
<rect x="680" y="868" width="2" height="2" fill="#fff"/>
<rect x="781.7" y="866" width="5" height="5" fill="#0a0a0a"/>
<rect x="783" y="868" width="2" height="2" fill="#fff"/>
<rect x="679" y="940" width="5" height="5" fill="#0a0a0a"/>
<rect x="680" y="942" width="2" height="2" fill="#fff"/>
<rect x="781.7" y="940" width="5" height="5" fill="#0a0a0a"/>
<rect x="783" y="942" width="2" height="2" fill="#fff"/>
<rect x="884.8" y="842" width="4" height="4" fill="#fff" stroke="#0a0a0a" stroke-width="1.4"/>
<rect x="1075" y="663" width="117" height="30" fill="#dcddde"/>
<rect x="1113" y="692" width="79" height="150" fill="#dcddde"/>
<rect x="1108" y="693" width="6" height="149" fill="#fff"/>
<rect x="1075" y="693" width="33" height="3" fill="#fff"/>
<rect x="1194.65" y="265.65" width="21.7" height="309.7" fill="#fff" stroke="#0a0a0a" stroke-width="1.3"/>
<rect x="1190" y="268.8" width="23" height="303.5" fill="#fff"/>
<line x1="1213" y1="268.8" x2="1213" y2="572.3" stroke="#0a0a0a" stroke-width="1.4"/>
<line x1="1196" y1="268.8" x2="1213" y2="268.8" stroke="#0a0a0a" stroke-width="1.4"/>
<line x1="1196" y1="572.3" x2="1213" y2="572.3" stroke="#0a0a0a" stroke-width="1.4"/>
<rect x="941.85" y="167.85" width="254.3" height="3.6" fill="#fff" stroke="#0a0a0a" stroke-width="1.7"/>
<rect x="1192" y="168" width="4" height="677" fill="#fff" stroke="#0a0a0a" stroke-width="2"/>
<rect x="941.8" y="168.8" width="6.4" height="9.9" fill="#fff" stroke="#0a0a0a" stroke-width="1.6"/>
<rect x="1024.8" y="168.8" width="6.4" height="9.9" fill="#fff" stroke="#0a0a0a" stroke-width="1.6"/>
<rect x="1107.3" y="168.8" width="6.4" height="9.9" fill="#fff" stroke="#0a0a0a" stroke-width="1.6"/>
<rect x="1190.3" y="168.8" width="6.4" height="9.9" fill="#fff" stroke="#0a0a0a" stroke-width="1.6"/>
<rect x="1191.15" y="252.65" width="5.2" height="4.7" fill="#fff" stroke="#0a0a0a" stroke-width="1.3"/>
<rect x="1191.15" y="334.65" width="5.2" height="4.7" fill="#fff" stroke="#0a0a0a" stroke-width="1.3"/>
<rect x="1191.15" y="416.65" width="5.2" height="4.7" fill="#fff" stroke="#0a0a0a" stroke-width="1.3"/>
<rect x="1191.15" y="497.65" width="5.2" height="4.7" fill="#fff" stroke="#0a0a0a" stroke-width="1.3"/>
<rect x="1191.15" y="580.65" width="5.2" height="4.7" fill="#fff" stroke="#0a0a0a" stroke-width="1.3"/>
<rect x="1191.15" y="754.65" width="5.2" height="4.7" fill="#fff" stroke="#0a0a0a" stroke-width="1.3"/>
<rect x="943.2" y="178.7" width="4.6" height="100.6" fill="#0a0a0a"/>
<rect x="945" y="180.2" width="1" height="97.6" fill="#fff"/>
<rect x="943.2" y="292.2" width="4.6" height="108.1" fill="#0a0a0a"/>
<rect x="945" y="293.7" width="1" height="105.1" fill="#fff"/>
<rect x="943.2" y="413.2" width="4.6" height="90.7" fill="#0a0a0a"/>
<rect x="945" y="414.7" width="1" height="87.7" fill="#fff"/>
<rect x="943.2" y="517.2" width="4.6" height="146.1" fill="#0a0a0a"/>
<rect x="945" y="518.7" width="1" height="143.1" fill="#fff"/>
<path d="M947 292.5L960 292.5A13 13 0 0 0 947 279.5" fill="none" stroke="#555" stroke-width="0.8"/>
<path d="M947 413L959.5 413A12.5 12.5 0 0 0 947 400.5" fill="none" stroke="#555" stroke-width="0.8"/>
<path d="M947 504L959 504A12 12 0 0 1 947 516" fill="none" stroke="#555" stroke-width="0.8"/>
<rect x="947" y="503" width="12" height="1.6" fill="#0a0a0a"/>
<rect x="943.15" y="536.65" width="4.7" height="4.7" fill="#fff" stroke="#0a0a0a" stroke-width="1.3"/>
<rect x="1149.5" y="172" width="3.6" height="79" fill="#0a0a0a"/>
<rect x="1149.5" y="282.5" width="3.6" height="54.5" fill="#0a0a0a"/>
<rect x="1149.5" y="265" width="42.5" height="3.8" fill="#0a0a0a"/>
<path d="M1151 265L1165 265A14 14 0 0 0 1151 251" fill="none" stroke="#555" stroke-width="0.8"/>
<path d="M1151 269L1165 269A14 14 0 0 1 1151 283" fill="none" stroke="#555" stroke-width="0.8"/>
<rect x="1153.5" y="172" width="37.5" height="9" fill="#f3f3f3"/>
<line x1="1153.5" y1="181" x2="1191" y2="181" stroke="#777" stroke-width="0.7"/>
<circle cx="1173.5" cy="176.5" r="2.4" fill="#fff" stroke="#777" stroke-width="0.6"/>
<rect x="945" y="295" width="35" height="3.3" fill="#0a0a0a"/>
<rect x="1012.5" y="295" width="71.5" height="3.3" fill="#0a0a0a"/>
<rect x="1101" y="295" width="34" height="3.3" fill="#0a0a0a"/>
<rect x="945" y="335" width="247" height="3.3" fill="#0a0a0a"/>
<rect x="994.2" y="294.7" width="4.8" height="41.6" fill="#0a0a0a"/>
<rect x="996" y="296.1" width="2" height="38.8" fill="#fff"/>
<rect x="1046" y="295" width="3.6" height="41" fill="#0a0a0a"/>
<rect x="1098" y="295" width="3.3" height="41" fill="#0a0a0a"/>
<rect x="1149.5" y="295" width="3.5" height="41" fill="#0a0a0a"/>
<rect x="1025.5" y="294" width="5" height="5" fill="#0a0a0a"/>
<rect x="1027" y="296" width="2" height="2" fill="#fff"/>
<rect x="1108" y="294" width="5" height="5" fill="#0a0a0a"/>
<rect x="1110" y="296" width="2" height="2" fill="#fff"/>
<path d="M994.5 297L981.5 297A13 13 0 0 0 994.5 310" fill="none" stroke="#555" stroke-width="0.8"/>
<path d="M998.7 297L1012.2 297A13.5 13.5 0 0 1 998.7 310.5" fill="none" stroke="#555" stroke-width="0.8"/>
<path d="M1098 297L1084.5 297A13.5 13.5 0 0 0 1098 310.5" fill="none" stroke="#555" stroke-width="0.8"/>
<path d="M1149.5 297L1136.5 297A13 13 0 0 0 1149.5 310" fill="none" stroke="#555" stroke-width="0.8"/>
<rect x="944.6" y="416" width="120.4" height="3.5" fill="#0a0a0a"/>
<rect x="1025.5" y="415.5" width="5" height="5" fill="#0a0a0a"/>
<rect x="1027" y="417" width="2" height="2" fill="#fff"/>
<rect x="1108.5" y="416.7" width="4" height="4" fill="#fff" stroke="#0a0a0a" stroke-width="1.4"/>
<rect x="1082.8" y="416.3" width="2.6" height="40.7" fill="#0a0a0a"/>
<rect x="1079.3" y="416.8" width="3.1" height="14.5" fill="#fff" stroke="#111" stroke-width="0.9"/>
<rect x="1085" y="435.2" width="9" height="2.9" fill="#0a0a0a"/>
<path d="M1080 418L1080 431.2A13.2 13.2 0 0 1 1066.8 418" fill="none" stroke="#555" stroke-width="0.8"/>
<rect x="1108.1" y="435.6" width="3.2" height="89.4" fill="#0a0a0a"/>
<rect x="1106" y="436.3" width="2.3" height="13.5" fill="#fff" stroke="#111" stroke-width="0.9"/>
<rect x="1111.1" y="436.3" width="2.3" height="13" fill="#fff" stroke="#111" stroke-width="0.9"/>
<rect x="1125.8" y="435.2" width="66.2" height="3.2" fill="#0a0a0a"/>
<rect x="1108.3" y="471.5" width="83.7" height="3.5" fill="#0a0a0a"/>
<path d="M1106.4 437L1106.4 449.3A12.3 12.3 0 0 1 1094.1 437" fill="none" stroke="#555" stroke-width="0.8"/>
<path d="M1112.8 437L1112.8 449.5A12.5 12.5 0 0 0 1125.3 437" fill="none" stroke="#555" stroke-width="0.8"/>
<rect x="961.3" y="471" width="124.3" height="3.7" fill="#0a0a0a"/>
<path d="M1083 470.5L1070.4 470.5A12.6 12.6 0 0 1 1083 457.9" fill="none" stroke="#555" stroke-width="0.8"/>
<rect x="994.9" y="472.7" width="4.3" height="191.6" fill="#0a0a0a"/>
<rect x="997" y="474.1" width="1" height="188.8" fill="#fff"/>
<rect x="944" y="498.8" width="54.8" height="4.8" fill="#0a0a0a"/>
<rect x="945.4" y="500" width="52" height="2" fill="#fff"/>
<line x1="947" y1="412" x2="947" y2="400" stroke="#777" stroke-width="0.6"/>
<path d="M948 472L948 485.2A13.2 13.2 0 0 0 961.2 472" fill="none" stroke="#555" stroke-width="0.8"/>
<rect x="946.9" y="472.3" width="2.1" height="14.3" fill="#fff" stroke="#111" stroke-width="0.9"/>
<line x1="1048.3" y1="475" x2="1048.3" y2="662" stroke="#555" stroke-width="1" stroke-dasharray="1.6 2.6"/>
<line x1="999" y1="536.6" x2="1048" y2="536.6" stroke="#555" stroke-width="1" stroke-dasharray="1.6 2.6"/>
<line x1="999" y1="600.4" x2="1048" y2="600.4" stroke="#555" stroke-width="1" stroke-dasharray="1.6 2.6"/>
<rect x="1073.4" y="495" width="11.6" height="140" fill="#dddedf"/>
<line x1="1074.3" y1="495" x2="1074.3" y2="635" stroke="#222" stroke-width="1"/>
<rect x="1082.4" y="494.6" width="3.2" height="140.9" fill="#0a0a0a"/>
<rect x="1073.4" y="494.4" width="12.2" height="2.9" fill="#0a0a0a"/>
<rect x="1073.4" y="632.8" width="12.2" height="2.8" fill="#0a0a0a"/>
<line x1="1074" y1="514" x2="1082" y2="514" stroke="#777" stroke-width="0.6"/>
<line x1="1074" y1="531" x2="1082" y2="531" stroke="#777" stroke-width="0.6"/>
<line x1="1074" y1="548" x2="1082" y2="548" stroke="#777" stroke-width="0.6"/>
<line x1="1085" y1="495.8" x2="1108" y2="495.8" stroke="#888" stroke-width="0.6"/>
<line x1="1085" y1="634.6" x2="1191" y2="634.6" stroke="#888" stroke-width="0.6"/>
<line x1="1108.7" y1="586" x2="1108.7" y2="634.6" stroke="#888" stroke-width="0.6"/>
<rect x="1108.3" y="539" width="83.7" height="3.8" fill="#0a0a0a"/>
<rect x="1108" y="541" width="3.3" height="27.3" fill="#0a0a0a"/>
<rect x="1108.7" y="540.2" width="4.3" height="4.4" fill="#0a0a0a"/>
<rect x="1110" y="541.3" width="2" height="2.2" fill="#fff"/>
<path d="M1110 538.5L1122.8 538.5A12.8 12.8 0 0 0 1110 525.7" fill="none" stroke="#555" stroke-width="0.8"/>
<path d="M1109.7 581.7L1122.7 581.7A13 13 0 0 0 1109.7 568.7" fill="none" stroke="#555" stroke-width="0.8"/>
<rect x="1108.3" y="582.3" width="83.7" height="3.9" fill="#0a0a0a"/>
<rect x="947" y="637" width="48" height="3" fill="#0a0a0a"/>
<rect x="980" y="660" width="14" height="7" fill="#c9cacc"/>
<rect x="942" y="661.8" width="38" height="5.2" fill="#0a0a0a"/>
<rect x="943.4" y="663" width="35.2" height="2" fill="#fff"/>
<rect x="994" y="661.8" width="80.5" height="5.2" fill="#0a0a0a"/>
<rect x="995.4" y="663" width="77.7" height="2" fill="#fff"/>
<rect x="942.4" y="661.8" width="6.4" height="6.4" fill="#fff" stroke="#0a0a0a" stroke-width="1.6"/>
<rect x="1025.3" y="661.8" width="6.4" height="6.4" fill="#fff" stroke="#0a0a0a" stroke-width="1.6"/>
<rect x="1107.8" y="661.8" width="6.4" height="6.4" fill="#fff" stroke="#0a0a0a" stroke-width="1.6"/>
<rect x="1190.3" y="661.8" width="6.4" height="6.4" fill="#fff" stroke="#0a0a0a" stroke-width="1.6"/>
<path d="M992.8 666.5L992.8 678.8A12.3 12.3 0 0 1 980.5 666.5" fill="none" stroke="#555" stroke-width="0.8"/>
<rect x="1071.2" y="661.7" width="4.1" height="7.6" fill="#0a0a0a"/>
<rect x="1072" y="662.9" width="2" height="5.2" fill="#fff"/>
<rect x="1071.2" y="682.7" width="4.1" height="10.6" fill="#0a0a0a"/>
<rect x="1072" y="683.9" width="2" height="8.2" fill="#fff"/>
<path d="M1073 683L1060 683A13 13 0 0 1 1073 670" fill="none" stroke="#555" stroke-width="0.8"/>
<line x1="1075" y1="669" x2="1189" y2="669" stroke="#888" stroke-width="0.7"/>
<rect x="936.4" y="691.2" width="60.9" height="5.1" fill="#0a0a0a"/>
<rect x="937.8" y="693" width="58.1" height="2" fill="#fff"/>
<rect x="1044.7" y="691.2" width="67.6" height="5.1" fill="#0a0a0a"/>
<rect x="1046.1" y="693" width="64.8" height="2" fill="#fff"/>
<rect x="879.7" y="691.2" width="43.1" height="5.1" fill="#0a0a0a"/>
<rect x="881.1" y="693" width="40.3" height="2" fill="#fff"/>
<path d="M937 695L937 709.5A14.5 14.5 0 0 1 922.5 695" fill="none" stroke="#555" stroke-width="0.8"/>
<rect x="942.35" y="692.25" width="4.9" height="153" fill="#fff" stroke="#0a0a0a" stroke-width="1.5"/>
<rect x="1024.75" y="692.25" width="5.2" height="153" fill="#fff" stroke="#0a0a0a" stroke-width="1.5"/>
<rect x="1107.55" y="692.25" width="5" height="153" fill="#fff" stroke="#0a0a0a" stroke-width="1.5"/>
<rect x="942.35" y="840.75" width="253.9" height="4.5" fill="#fff" stroke="#0a0a0a" stroke-width="1.5"/>
<path d="M997 696L997 709A13 13 0 0 0 1010 696" fill="none" stroke="#555" stroke-width="0.8"/>
<path d="M1024 696L1024 709A13 13 0 0 1 1011 696" fill="none" stroke="#555" stroke-width="0.8"/>
<path d="M1031.5 695L1031.5 707.8A12.8 12.8 0 0 0 1044.3 695" fill="none" stroke="#555" stroke-width="0.8"/>
<line x1="991.8" y1="696" x2="991.8" y2="840" stroke="#888" stroke-width="0.7"/>
<line x1="948" y1="742.7" x2="991.8" y2="742.7" stroke="#888" stroke-width="0.7"/>
<line x1="948" y1="791.3" x2="991.8" y2="791.3" stroke="#888" stroke-width="0.7"/>
<rect x="1030.7" y="786.3" width="76.3" height="3.5" fill="#0a0a0a"/>
<line x1="1031" y1="787.3" x2="1107" y2="787.3" stroke="#fff" stroke-width="0.5"/>
<path d="M1024 838L1024 827A11 11 0 0 0 1013 838" fill="none" stroke="#555" stroke-width="0.8"/>
<rect x="942.25" y="840.65" width="5.7" height="4.7" fill="#fff" stroke="#0a0a0a" stroke-width="1.3"/>
<rect x="1025.15" y="840.65" width="5.7" height="4.7" fill="#fff" stroke="#0a0a0a" stroke-width="1.3"/>
<rect x="1107.65" y="840.65" width="5.7" height="4.7" fill="#fff" stroke="#0a0a0a" stroke-width="1.3"/>
<rect x="1190.15" y="840.65" width="5.7" height="4.7" fill="#fff" stroke="#0a0a0a" stroke-width="1.3"/>
<circle cx="1330.6" cy="314.4" r="19.5" fill="#1bb5ea"/>
<text x="1330.6" y="324.5" font-size="28.6" font-weight="bold" fill="#fff" text-anchor="middle" textLength="16.9" lengthAdjust="spacingAndGlyphs">1</text>
<text x="1368" y="323.3" font-size="26.6" font-weight="normal" fill="#2b2b2b" text-anchor="start" textLength="206" lengthAdjust="spacingAndGlyphs">GROUP EXERCISE</text>
<circle cx="1330.6" cy="359.36" r="19.5" fill="#1bb5ea"/>
<text x="1330.6" y="369.46" font-size="28.6" font-weight="bold" fill="#fff" text-anchor="middle" textLength="16.9" lengthAdjust="spacingAndGlyphs">2</text>
<text x="1368" y="368.26" font-size="26.6" font-weight="normal" fill="#2b2b2b" text-anchor="start" textLength="117.5" lengthAdjust="spacingAndGlyphs">SPINNING</text>
<circle cx="1330.6" cy="404.32" r="19.5" fill="#1bb5ea"/>
<text x="1330.6" y="414.42" font-size="28.6" font-weight="bold" fill="#fff" text-anchor="middle" textLength="16.9" lengthAdjust="spacingAndGlyphs">3</text>
<text x="1368" y="413.22" font-size="26.6" font-weight="normal" fill="#2b2b2b" text-anchor="start" textLength="230.5" lengthAdjust="spacingAndGlyphs">SUPPORT/STORAGE</text>
<circle cx="1330.6" cy="449.28" r="19.5" fill="#1bb5ea"/>
<text x="1330.6" y="459.38" font-size="28.6" font-weight="bold" fill="#fff" text-anchor="middle" textLength="16.9" lengthAdjust="spacingAndGlyphs">4</text>
<text x="1368" y="458.18" font-size="26.6" font-weight="normal" fill="#2b2b2b" text-anchor="start" textLength="154" lengthAdjust="spacingAndGlyphs">RAQUETBALL</text>
<circle cx="1330.6" cy="494.24" r="19.5" fill="#1bb5ea"/>
<text x="1330.6" y="504.34" font-size="28.6" font-weight="bold" fill="#fff" text-anchor="middle" textLength="16.9" lengthAdjust="spacingAndGlyphs">5</text>
<text x="1368" y="503.14" font-size="26.6" font-weight="normal" fill="#2b2b2b" text-anchor="start" textLength="173" lengthAdjust="spacingAndGlyphs">LOCKER ROOM</text>
<circle cx="1330.6" cy="539.2" r="19.5" fill="#1bb5ea"/>
<text x="1330.6" y="549.3" font-size="28.6" font-weight="bold" fill="#fff" text-anchor="middle" textLength="16.9" lengthAdjust="spacingAndGlyphs">6</text>
<text x="1368" y="548.1" font-size="26.6" font-weight="normal" fill="#2b2b2b" text-anchor="start" textLength="98.5" lengthAdjust="spacingAndGlyphs">FITNESS</text>
<circle cx="1330.6" cy="584.16" r="19.5" fill="#1bb5ea"/>
<text x="1330.6" y="594.26" font-size="28.6" font-weight="bold" fill="#fff" text-anchor="middle" textLength="16.9" lengthAdjust="spacingAndGlyphs">7</text>
<text x="1368" y="593.06" font-size="26.6" font-weight="normal" fill="#2b2b2b" text-anchor="start" textLength="116" lengthAdjust="spacingAndGlyphs">MINI GYM</text>
<circle cx="1330.6" cy="629.12" r="19.5" fill="#1bb5ea"/>
<text x="1330.6" y="639.22" font-size="28.6" font-weight="bold" fill="#fff" text-anchor="middle" textLength="16.9" lengthAdjust="spacingAndGlyphs">8</text>
<text x="1368" y="638.02" font-size="26.6" font-weight="normal" fill="#2b2b2b" text-anchor="start" textLength="154" lengthAdjust="spacingAndGlyphs">MECHANICAL</text>
<circle cx="1330.6" cy="674.08" r="19.5" fill="#1bb5ea"/>
<text x="1330.6" y="684.18" font-size="28.6" font-weight="bold" fill="#fff" text-anchor="middle" textLength="16.9" lengthAdjust="spacingAndGlyphs">9</text>
<text x="1368" y="682.98" font-size="26.6" font-weight="normal" fill="#2b2b2b" text-anchor="start" textLength="260" lengthAdjust="spacingAndGlyphs">HEALTH RISK ASSMNT</text>
<circle cx="1330.6" cy="719.04" r="19.5" fill="#1bb5ea"/>
<text x="1330.6" y="729.14" font-size="28.6" font-weight="bold" fill="#fff" text-anchor="middle" textLength="34.5" lengthAdjust="spacingAndGlyphs">10</text>
<text x="1368" y="727.94" font-size="26.6" font-weight="normal" fill="#2b2b2b" text-anchor="start" textLength="214" lengthAdjust="spacingAndGlyphs">KINESIOLOGY LAB</text>
<circle cx="170.8" cy="260.5" r="21.7" fill="#1bb5ea"/>
<text x="169.6" y="272.6" font-size="34.6" font-weight="bold" fill="#fff" text-anchor="middle" textLength="20.5" lengthAdjust="spacingAndGlyphs">1</text>
<circle cx="259.8" cy="518" r="21.7" fill="#1bb5ea"/>
<text x="258.6" y="530.1" font-size="34.6" font-weight="bold" fill="#fff" text-anchor="middle" textLength="20.5" lengthAdjust="spacingAndGlyphs">2</text>
<circle cx="102.3" cy="508" r="21.7" fill="#1bb5ea"/>
<text x="101.1" y="520.1" font-size="34.6" font-weight="bold" fill="#fff" text-anchor="middle" textLength="20.5" lengthAdjust="spacingAndGlyphs">3</text>
<circle cx="137.8" cy="757" r="21.7" fill="#1bb5ea"/>
<text x="136.6" y="769.1" font-size="34.6" font-weight="bold" fill="#fff" text-anchor="middle" textLength="20.5" lengthAdjust="spacingAndGlyphs">4</text>
<circle cx="455.3" cy="261" r="21.7" fill="#1bb5ea"/>
<text x="454.1" y="273.1" font-size="34.6" font-weight="bold" fill="#fff" text-anchor="middle" textLength="20.5" lengthAdjust="spacingAndGlyphs">5</text>
<circle cx="725.3" cy="260.5" r="21.7" fill="#1bb5ea"/>
<text x="724.1" y="272.6" font-size="34.6" font-weight="bold" fill="#fff" text-anchor="middle" textLength="20.5" lengthAdjust="spacingAndGlyphs">5</text>
<circle cx="523.3" cy="484" r="21.7" fill="#1bb5ea"/>
<text x="522.1" y="496.1" font-size="34.6" font-weight="bold" fill="#fff" text-anchor="middle" textLength="20.5" lengthAdjust="spacingAndGlyphs">6</text>
<circle cx="783" cy="562" r="21.7" fill="#1bb5ea"/>
<text x="781.8" y="574.1" font-size="34.6" font-weight="bold" fill="#fff" text-anchor="middle" textLength="20.5" lengthAdjust="spacingAndGlyphs">7</text>
<circle cx="534.7" cy="788.2" r="21.7" fill="#1bb5ea"/>
<text x="533.5" y="800.3" font-size="34.6" font-weight="bold" fill="#fff" text-anchor="middle" textLength="20.5" lengthAdjust="spacingAndGlyphs">8</text>
<circle cx="829.7" cy="796.3" r="21.7" fill="#1bb5ea"/>
<text x="828.5" y="808.4" font-size="34.6" font-weight="bold" fill="#fff" text-anchor="middle" textLength="20.5" lengthAdjust="spacingAndGlyphs">9</text>
<circle cx="1071.3" cy="381" r="21.7" fill="#1bb5ea"/>
<text x="1070.7" y="393.1" font-size="34.6" font-weight="bold" fill="#fff" text-anchor="middle" textLength="37.5" lengthAdjust="spacingAndGlyphs">10</text>
<text x="1425.5" y="916.6" font-size="28.6" font-weight="normal" fill="#2b2b2b" text-anchor="start" textLength="265" lengthAdjust="spacingAndGlyphs">GROUND FLOOR PLAN</text>
<rect x="1429.8" y="937.2" width="96.2" height="5.4" fill="#414042"/>
<rect x="1526" y="931.8" width="96" height="5.4" fill="#414042"/>
<rect x="1622" y="937.2" width="192.4" height="5.4" fill="#414042"/>
<text x="1429" y="961.3" font-size="19" font-weight="normal" fill="#2b2b2b" text-anchor="start" textLength="10" lengthAdjust="spacingAndGlyphs">0</text>
<text x="1512.4" y="961.3" font-size="19" font-weight="normal" fill="#2b2b2b" text-anchor="start" textLength="20.5" lengthAdjust="spacingAndGlyphs">20</text>
<text x="1608" y="961.3" font-size="19" font-weight="normal" fill="#2b2b2b" text-anchor="start" textLength="21" lengthAdjust="spacingAndGlyphs">40</text>
<text x="1793.3" y="961.3" font-size="19" font-weight="normal" fill="#2b2b2b" text-anchor="start" textLength="21" lengthAdjust="spacingAndGlyphs">80</text>
<circle cx="1860.5" cy="945.3" r="17.6" fill="#414042"/>
<rect x="1862" y="943.7" width="17" height="3.2" fill="#fff"/>
<text x="577.5" y="135.4" font-size="15.1" font-weight="normal" fill="#222" text-anchor="start" textLength="105" lengthAdjust="spacingAndGlyphs">DOWN TO POOL</text>
</svg>
</body></html>
